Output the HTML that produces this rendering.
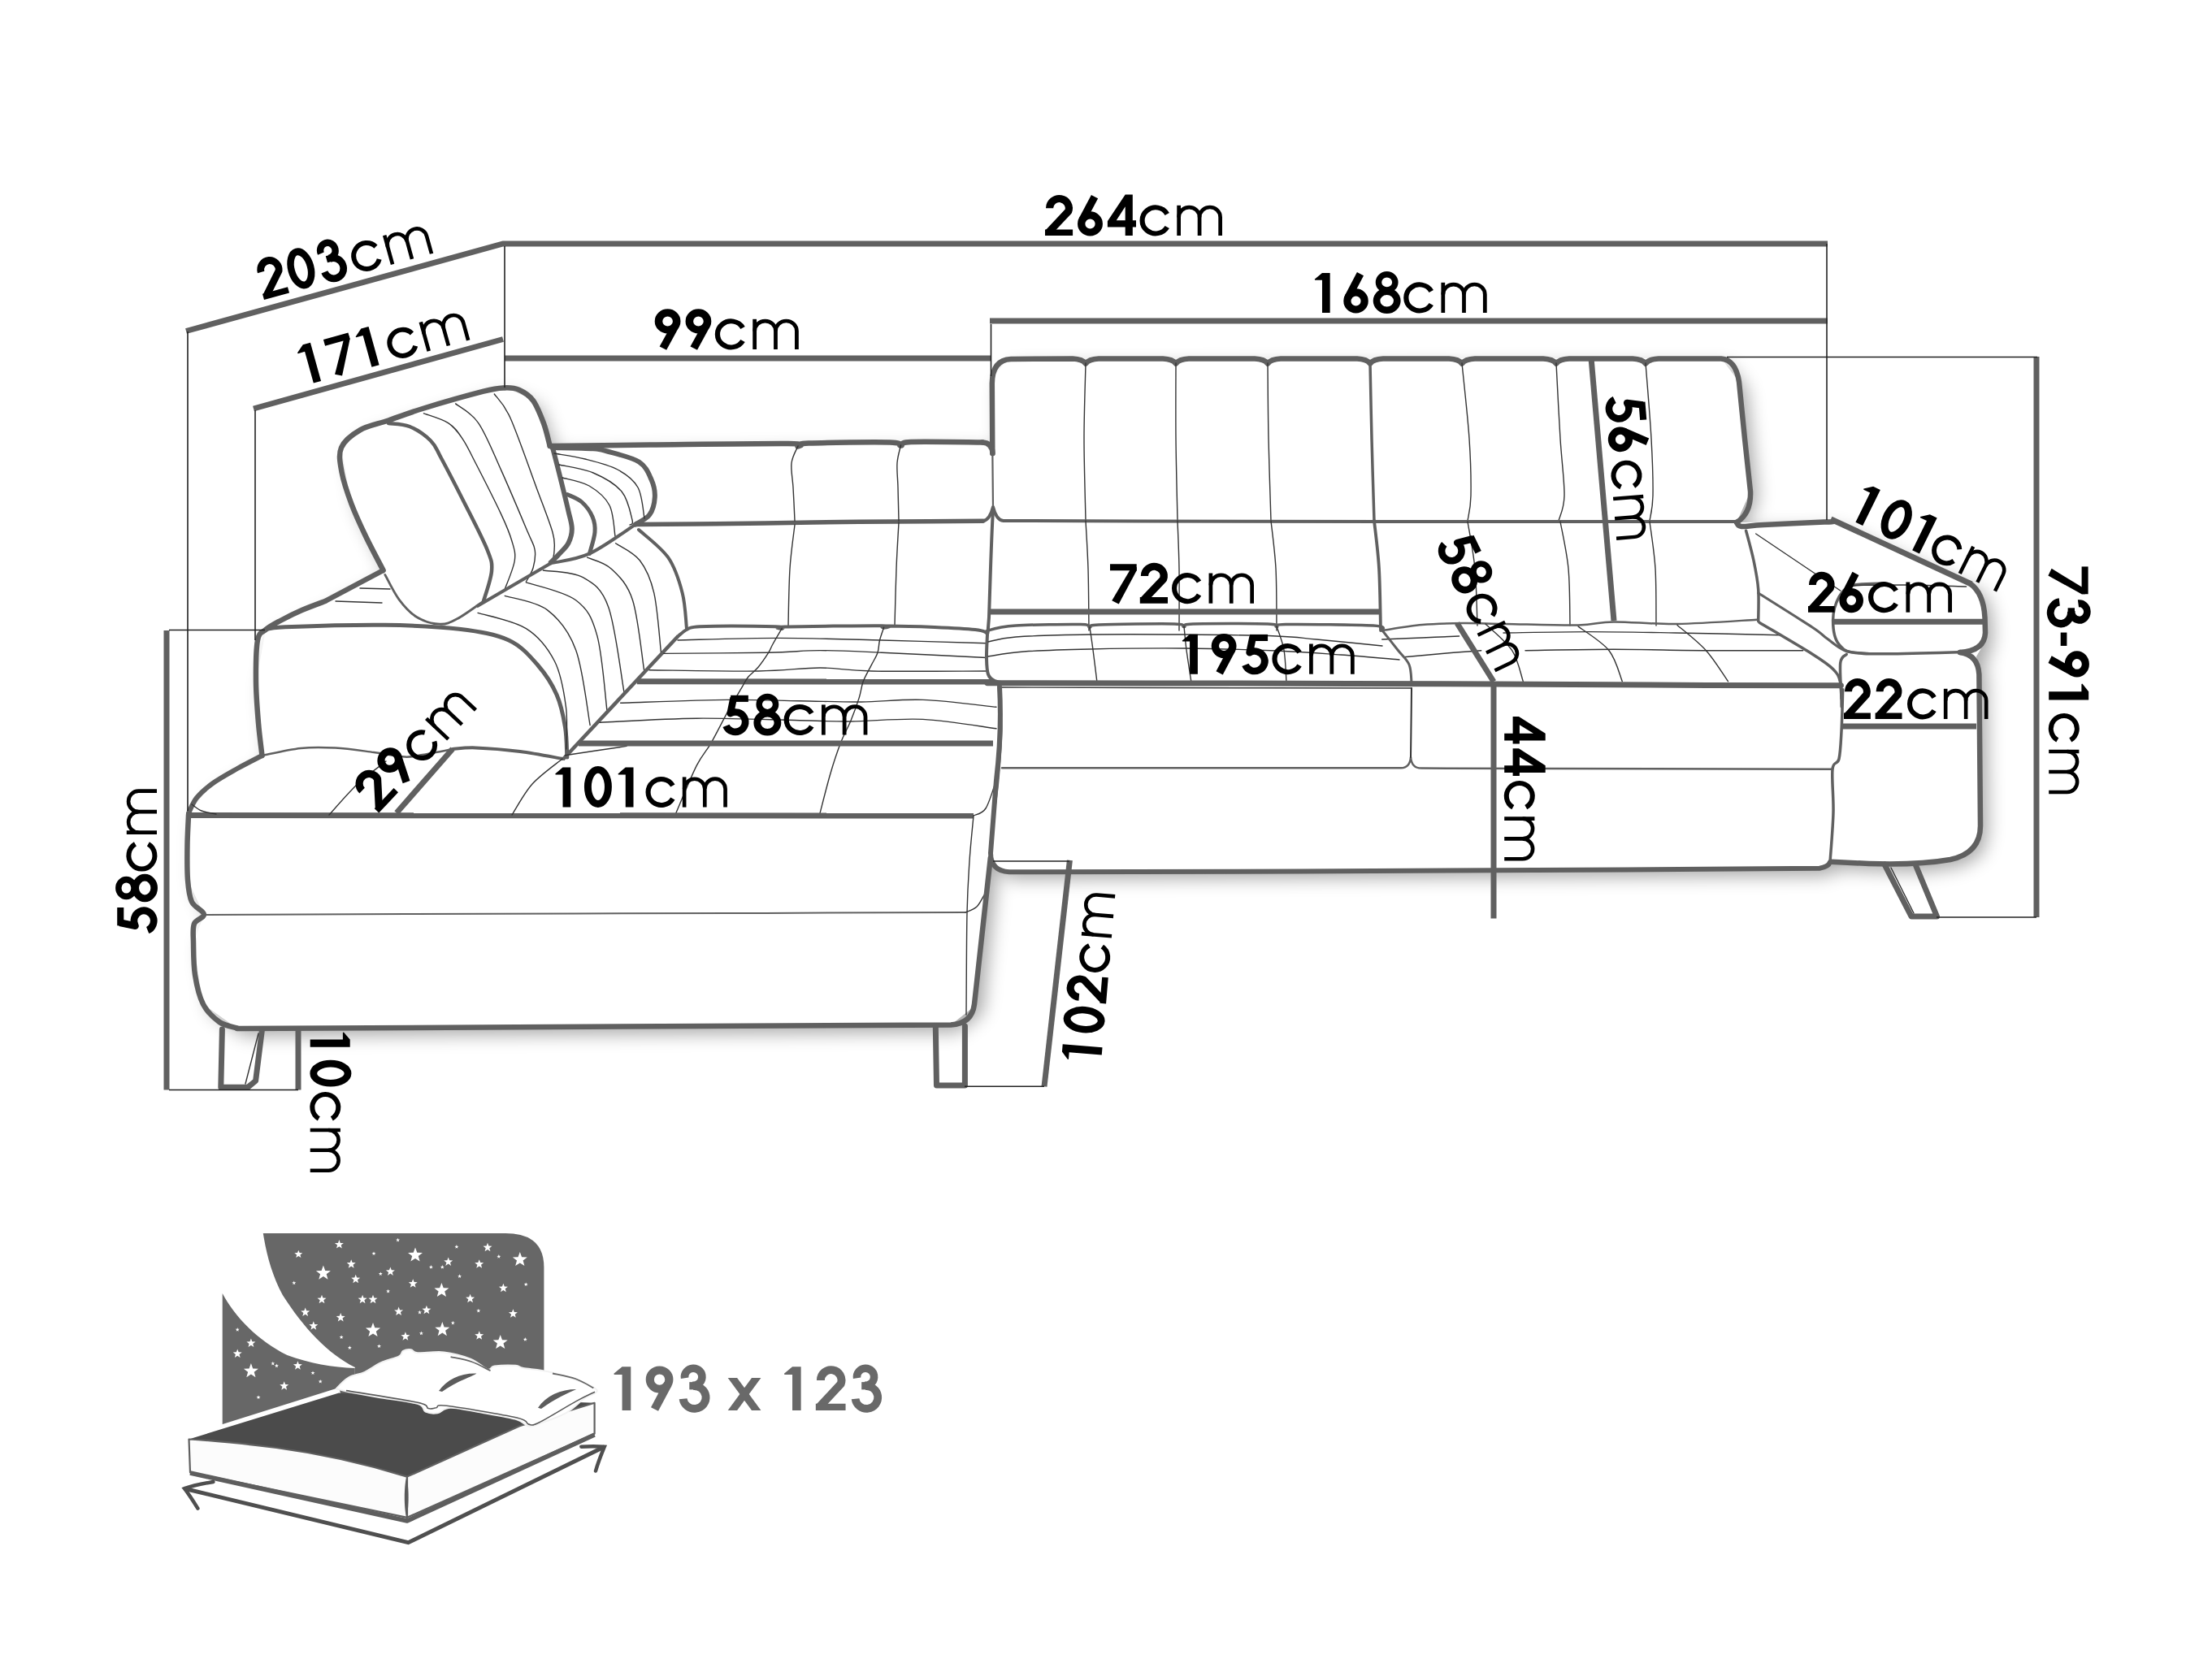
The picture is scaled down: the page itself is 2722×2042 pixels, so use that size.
<!DOCTYPE html>
<html><head><meta charset="utf-8"><title>Sofa dimensions</title>
<style>html,body{margin:0;padding:0;background:#fff;width:2722px;height:2042px;overflow:hidden}svg{display:block;font-family:"Liberation Sans",sans-serif}</style>
</head><body>
<svg width="2722" height="2042" viewBox="0 0 2722 2042" font-family="Liberation Sans, sans-serif"><defs><filter id="sh" x="-10%" y="-10%" width="120%" height="120%"><feGaussianBlur stdDeviation="11"/></filter></defs>
<path d="M621 477 L656 492 L677 549 L1209 544 L1221 558 L1221 466 L1240 442 L2118 441 L2140 470 L2154 605 L2137 643 L2256 642 L2426 719 L2436 728 L2442 750 L2443 779 L2438 798 L2432 808 L2436 830 L2437 1016 L2430 1042 L2405 1057 L2360 1064 L2331 1064 L2253 1061 L2239 1069 L1233 1073 L1219 1054 L1200 1238 L1170 1261.5 L292 1266 L250 1236 L238 1160 L251 1126 L231 1083 L232 1001 L262 964 L322 930 L315 840 L327 775 L400 740 L471 702 L432 620 L420 551 L443 529 L520 503 L595 481Z" fill="#000" opacity="0.34" filter="url(#sh)" transform="translate(9 9)"/>
<path d="M621 477 L656 492 L677 549 L1209 544 L1221 558 L1221 466 L1240 442 L2118 441 L2140 470 L2154 605 L2137 643 L2256 642 L2426 719 L2436 728 L2442 750 L2443 779 L2438 798 L2432 808 L2436 830 L2437 1016 L2430 1042 L2405 1057 L2360 1064 L2331 1064 L2253 1061 L2239 1069 L1233 1073 L1219 1054 L1200 1238 L1170 1261.5 L292 1266 L250 1236 L238 1160 L251 1126 L231 1083 L232 1001 L262 964 L322 930 L315 840 L327 775 L400 740 L471 702 L432 620 L420 551 L443 529 L520 503 L595 481Z" fill="#fff"/>
<path d="M1221.3 558 L1220.8 472 Q1221 443 1244 442 L1320 441.5 Q1332 442 1336 447.5 Q1340 442 1352 441.5 L1431 441.5 Q1443 442 1447 447.5 Q1451 442 1463 441.5 L1544 441.5 Q1556 442 1560 447.5 Q1564 442 1576 441.5 L1670 441.5 Q1682 442 1686 447.5 Q1690 442 1702 441.5 L1783 441.5 Q1795 442 1799 447.5 Q1803 442 1815 441.5 L1899 441.5 Q1911 442 1915 447.5 Q1919 442 1931 441.5 L2009 441.5 Q2021 442 2025 447.5 Q2029 442 2041 441.5 L2118 441.5 Q2136 443 2140 470 L2147 540 L2154 605 Q2155 632 2137 643" stroke="#606060" stroke-width="6.5" fill="none" stroke-linecap="round" stroke-linejoin="round"/>
<path d="M1336 447 C1335.7 462.5 1334 507.7 1334 540 C1334 572.3 1335.7 624.2 1336 641" stroke="#333" stroke-width="1.4" fill="none" stroke-linecap="round" stroke-linejoin="round"/>
<path d="M1447 447 C1447 462.5 1446.7 507.7 1447 540 C1447.3 572.3 1448.7 624.2 1449 641" stroke="#333" stroke-width="1.4" fill="none" stroke-linecap="round" stroke-linejoin="round"/>
<path d="M1560 447 C1560.2 462.5 1560.3 507.7 1561 540 C1561.7 572.3 1563.5 624.2 1564 641" stroke="#333" stroke-width="1.4" fill="none" stroke-linecap="round" stroke-linejoin="round"/>
<path d="M1686 447 C1686.3 462.5 1687.2 507.7 1688 540 C1688.8 572.3 1690.5 624.2 1691 641" stroke="#606060" stroke-width="3.5" fill="none" stroke-linecap="round" stroke-linejoin="round"/>
<path d="M1799 447 C1800.5 462.5 1806.2 512.8 1808 540 C1809.8 567.2 1810.3 593.2 1810 610 C1809.7 626.8 1806.7 635.8 1806 641" stroke="#333" stroke-width="1.4" fill="none" stroke-linecap="round" stroke-linejoin="round"/>
<path d="M1915 447 C1915.8 462.5 1918.3 512.8 1920 540 C1921.7 567.2 1925.3 593.2 1925 610 C1924.7 626.8 1919.2 635.8 1918 641" stroke="#333" stroke-width="1.4" fill="none" stroke-linecap="round" stroke-linejoin="round"/>
<path d="M2025 447 C2026.2 462.5 2030.5 512.8 2032 540 C2033.5 567.2 2034.3 593.2 2034 610 C2033.7 626.8 2030.7 635.8 2030 641" stroke="#333" stroke-width="1.4" fill="none" stroke-linecap="round" stroke-linejoin="round"/>
<path d="M1209.6 641.3 Q1218 640 1222 624 Q1226 640 1234.6 641 L1400 641.5 L1700 642 L2135 642" stroke="#606060" stroke-width="4" fill="none" stroke-linecap="round" stroke-linejoin="round"/>
<path d="M1221.3 556 L1222 624" stroke="#606060" stroke-width="2.2" fill="none" stroke-linecap="round" stroke-linejoin="round"/>
<path d="M782 645.5 C798.3 645.4 843.7 645.2 880 644.8 C916.3 644.4 963.3 643.5 1000 643 C1036.7 642.5 1065.1 642.3 1100 642 C1134.9 641.7 1191.3 641.4 1209.6 641.3" stroke="#606060" stroke-width="5.5" fill="none" stroke-linecap="round" stroke-linejoin="round"/>
<path d="M1222 628 C1220 660 1219 700 1217 760 L1215.5 779" stroke="#606060" stroke-width="4" fill="none" stroke-linecap="round" stroke-linejoin="round"/>
<path d="M1336 641 C1336.5 650.8 1338.3 677.5 1339 700 C1339.7 722.5 1339.8 763.3 1340 776" stroke="#333" stroke-width="1.4" fill="none" stroke-linecap="round" stroke-linejoin="round"/>
<path d="M1449 641 C1449.3 650.8 1450.7 677.5 1451 700 C1451.3 722.5 1451 763.3 1451 776" stroke="#333" stroke-width="1.4" fill="none" stroke-linecap="round" stroke-linejoin="round"/>
<path d="M1564 641 C1565 650.8 1568.8 677.5 1570 700 C1571.2 722.5 1570.8 763.3 1571 776" stroke="#333" stroke-width="1.4" fill="none" stroke-linecap="round" stroke-linejoin="round"/>
<path d="M1691 641 C1692 650.8 1695.7 677.5 1697 700 C1698.3 722.5 1698.7 763.3 1699 776" stroke="#606060" stroke-width="3.8" fill="none" stroke-linecap="round" stroke-linejoin="round"/>
<path d="M1806 642 C1807.5 651.7 1813 678.7 1815 700 C1817 721.3 1817.5 758.3 1818 770" stroke="#333" stroke-width="1.4" fill="none" stroke-linecap="round" stroke-linejoin="round"/>
<path d="M1920 642 C1921.7 651.7 1928 678.7 1930 700 C1932 721.3 1931.7 758.3 1932 770" stroke="#333" stroke-width="1.4" fill="none" stroke-linecap="round" stroke-linejoin="round"/>
<path d="M2030 642 C2031.2 651.7 2035.7 678.7 2037 700 C2038.3 721.3 2037.8 758.3 2038 770" stroke="#333" stroke-width="1.4" fill="none" stroke-linecap="round" stroke-linejoin="round"/>
<path d="M676.7 549 C697.2 548.8 751.1 548 800 547.5 C848.9 547 939.7 545.7 970 546 C1000.3 546.3 977.8 549.6 982 549.5 C986.2 549.4 976.2 546.3 995 545.5 C1013.8 544.7 1076.1 544 1095 544.5 C1113.9 545 1104.2 548.6 1108.5 548.5 C1112.8 548.4 1104.2 544.7 1121 544 C1137.8 543.3 1194.3 544.4 1209 544.5" stroke="#606060" stroke-width="6.5" fill="none" stroke-linecap="round" stroke-linejoin="round"/>
<path d="M1209 544.5 Q1221 545 1221.5 558" stroke="#606060" stroke-width="6.5" fill="none" stroke-linecap="round" stroke-linejoin="round"/>
<path d="M982 549 C980.7 552.5 975 561.5 974 570 C973 578.5 975.3 588.2 976 600 C976.7 611.8 977.7 634.2 978 641" stroke="#333" stroke-width="1.4" fill="none" stroke-linecap="round" stroke-linejoin="round"/>
<path d="M1108.5 548 C1107.8 551.7 1104.6 561.3 1104 570 C1103.4 578.7 1104.7 588.2 1105 600 C1105.3 611.8 1105.8 634.2 1106 641" stroke="#333" stroke-width="1.4" fill="none" stroke-linecap="round" stroke-linejoin="round"/>
<path d="M978 646 C977 655 973.3 679.3 972 700 C970.7 720.7 970.3 758.3 970 770" stroke="#333" stroke-width="1.4" fill="none" stroke-linecap="round" stroke-linejoin="round"/>
<path d="M1106 643 C1105.5 652.5 1103.8 678.8 1103 700 C1102.2 721.2 1101.3 758.3 1101 770" stroke="#333" stroke-width="1.4" fill="none" stroke-linecap="round" stroke-linejoin="round"/>
<path d="M676.7 549 C675.4 544.3 672.5 530.3 669 521 C665.5 511.7 661 499.8 656 493 C651 486.2 644.8 482.6 639 480 C633.2 477.4 628.3 477.1 621 477.4 C613.7 477.7 611.8 477.4 595 481.7 C578.2 486 539.5 497 520 503 C500.5 509 490.8 513.1 478 517.5 C465.2 521.9 452.7 523.8 443 529.4 C433.3 535 423.7 542.3 420 551 C416.3 559.7 418.5 569.9 420.6 581.5 C422.7 593.1 427.7 607.5 432.6 620.6 C437.5 633.7 443.5 646.4 450 660 C456.5 673.6 468 695 471.6 702" stroke="#606060" stroke-width="6.5" fill="none" stroke-linecap="round" stroke-linejoin="round"/>
<path d="M471.6 702 L400 740" stroke="#606060" stroke-width="6.5" fill="none" stroke-linecap="butt" stroke-linejoin="miter"/>
<path d="M400 740 C395.2 741.8 380.7 747 371.5 751 C362.3 755 352.4 760 345 764 C337.6 768 331.7 771 327 775 C322.3 779 319 777.2 317 788 C315 798.8 314.8 823 315 840 C315.2 857 316.8 875 318 890 C319.2 905 321.8 923.3 322.5 930" stroke="#606060" stroke-width="6.5" fill="none" stroke-linecap="round" stroke-linejoin="round"/>
<path d="M478 521 C482.3 521.7 495.3 521.4 504 525 C512.7 528.6 523.5 536 530 542.5 C536.5 549 536 551.1 543 564 C550 576.9 562.5 601.2 572 620 C581.5 638.8 594.2 663.2 599.7 677 C605.2 690.8 605.8 692.5 605 703 C604.2 713.5 596.7 733.8 595 740" stroke="#606060" stroke-width="4.5" fill="none" stroke-linecap="round" stroke-linejoin="round"/>
<path d="M595 740 C589.6 743.6 571.8 756.9 562.8 761.6 C553.8 766.3 549.3 768.6 541 768.2 C532.7 767.9 521.1 764.6 512.8 759.5 C504.5 754.4 497.5 746.5 491 737.8 C484.5 729.1 476.7 712.5 473.8 707.4" stroke="#606060" stroke-width="2.8" fill="none" stroke-linecap="round" stroke-linejoin="round"/>
<path d="M521.5 508.8 C526.6 510.8 543.9 515.5 551.9 520.8 C559.9 526 563.9 532.3 569.3 540.3 C574.7 548.2 576.5 553 584.5 568.5 C592.5 584 609.4 617.3 617 633.6 C624.6 649.9 627.3 656.8 630 666.2 C632.7 675.6 634.7 680.2 633.3 690 C631.9 699.8 623.4 719 621.4 724.8" stroke="#333" stroke-width="1.4" fill="none" stroke-linecap="round" stroke-linejoin="round"/>
<path d="M560.6 496.9 C565.3 500.9 579.4 507 588.8 520.8 C598.2 534.5 606.9 557 617 579.4 C627.1 601.8 642.7 639 649.6 655.3 C656.5 671.6 657.1 669.8 658.2 677 C659.3 684.2 657.9 692.2 656.1 698.7 C654.3 705.2 648.9 713.1 647.4 716" stroke="#333" stroke-width="1.4" fill="none" stroke-linecap="round" stroke-linejoin="round"/>
<path d="M608.3 485 C611.6 489.9 619.2 495 627.9 514.3 C636.6 533.6 651.7 577.5 660.4 601 C669.1 624.5 676.4 642.6 680 655.3 C683.6 668 682.1 671.2 682.1 677 C682.1 682.8 680.4 687.8 680 690" stroke="#333" stroke-width="1.4" fill="none" stroke-linecap="round" stroke-linejoin="round"/>
<path d="M680 551 C681.7 557.5 686.8 577 690 590 C693.2 603 697.2 619.1 699.5 629.3 C701.8 639.5 703.8 644.5 703.8 651 C703.8 657.5 702.1 663.1 699.5 668.3 C696.9 673.5 691.6 678 688 682 C684.4 686 679.5 690.5 677.8 692.2" stroke="#606060" stroke-width="6" fill="none" stroke-linecap="round" stroke-linejoin="round"/>
<path d="M680 551 C688.3 551.2 718.7 551.5 729.9 552.2 C741.1 553 737.8 552.8 747.2 555.5 C756.6 558.2 777.2 562.7 786.3 568.5 C795.3 574.3 798.2 583 801.5 590.2 C804.8 597.5 806.2 604.8 805.8 612 C805.4 619.2 803.3 628 799.3 633.6 C795.3 639.2 784.9 643.5 782 645.5" stroke="#606060" stroke-width="6" fill="none" stroke-linecap="round" stroke-linejoin="round"/>
<path d="M698.4 608.7 C701.3 610.2 710.9 613.5 716 618 C721.1 622.5 726.3 629.8 729 636 C731.7 642.2 732.6 647.4 732 655 C731.4 662.6 726.6 677 725.5 681.4" stroke="#606060" stroke-width="5" fill="none" stroke-linecap="round" stroke-linejoin="round"/>
<path d="M682 558 C688.3 559.2 707 561.7 720 565 C733 568.3 749.2 572.2 760 578 C770.8 583.8 779.5 590 785 600 C790.5 610 791.7 631.7 793 638" stroke="#333" stroke-width="1.4" fill="none" stroke-linecap="round" stroke-linejoin="round"/>
<path d="M688 572 C695 573.7 717.2 576.5 730 582 C742.8 587.5 757 595.3 765 605 C773 614.7 776.3 633.2 778 640 C779.7 646.8 775.5 645 775 646" stroke="#333" stroke-width="1.4" fill="none" stroke-linecap="round" stroke-linejoin="round"/>
<path d="M692 588 C697.5 589.7 715.3 592.3 725 598 C734.7 603.7 744.7 611.7 750 622 C755.3 632.3 755.8 653.7 757 660" stroke="#333" stroke-width="1.4" fill="none" stroke-linecap="round" stroke-linejoin="round"/>
<path d="M782 645.5 C772.6 651.5 742.9 673.4 725.5 681.4 C708.1 689.4 685.8 691.3 677.8 693.3" stroke="#606060" stroke-width="4" fill="none" stroke-linecap="round" stroke-linejoin="round"/>
<path d="M677.8 693.3 L586.6 746.5" stroke="#606060" stroke-width="4" fill="none" stroke-linecap="butt" stroke-linejoin="miter"/>
<path d="M327 775 C331 774.5 326.7 772.7 351 771.7 C375.3 770.8 437.3 768.9 473 769.3 C508.7 769.7 539.5 771.2 565 774.3 C590.5 777.4 609.8 780.5 626 788 C642.2 795.5 652.2 807.8 662 819 C671.8 830.2 679.4 842.3 685 855 C690.6 867.7 693.4 882.2 695.5 895 C697.6 907.8 697.4 925.8 697.8 932" stroke="#606060" stroke-width="5" fill="none" stroke-linecap="round" stroke-linejoin="round"/>
<path d="M588 754.4 C597.9 757.6 631.7 763.7 647.4 773.6 C663.1 783.5 674.2 797.8 682.4 813.8 C690.6 829.8 694 851.8 696.4 869.8 C698.8 887.8 696.9 913.3 697 922" stroke="#333" stroke-width="1.4" fill="none" stroke-linecap="round" stroke-linejoin="round"/>
<path d="M621.2 733.4 C629.9 736.3 659 739.8 673.6 750.9 C688.2 762 699.9 776.3 708.6 799.9 C717.4 823.5 723.2 877.1 726.1 892.5" stroke="#333" stroke-width="1.4" fill="none" stroke-linecap="round" stroke-linejoin="round"/>
<path d="M647.4 716.8 C657.6 720.4 694 727.8 708.6 738.7 C723.2 749.6 728.4 759.7 734.8 782.4 C741.2 805.1 745 859.6 747 875" stroke="#333" stroke-width="1.4" fill="none" stroke-linecap="round" stroke-linejoin="round"/>
<path d="M668.4 702 C676.5 703.5 703.9 703.1 717.3 710.7 C730.7 718.3 740.3 723.8 748.8 747.4 C757.2 771 764.8 834.8 768 852.3" stroke="#333" stroke-width="1.4" fill="none" stroke-linecap="round" stroke-linejoin="round"/>
<path d="M722.6 686.2 C727.5 688.5 743 691.5 752.3 700.2 C761.6 709 771.8 718 778.5 738.7 C785.2 759.4 790.2 810 792.5 824.3" stroke="#333" stroke-width="1.4" fill="none" stroke-linecap="round" stroke-linejoin="round"/>
<path d="M757.6 668.7 C762.5 672.2 779.4 679.5 787.3 689.7 C795.2 699.9 800.4 711 804.8 729.9 C809.2 748.8 812 791.1 813.5 803.4" stroke="#333" stroke-width="1.4" fill="none" stroke-linecap="round" stroke-linejoin="round"/>
<path d="M786 652 C792 657.7 813.2 673.2 822.2 686.2 C831.2 699.2 835.9 715.3 839.7 729.9 C843.5 744.5 844.1 766.3 845 773.6" stroke="#606060" stroke-width="4" fill="none" stroke-linecap="round" stroke-linejoin="round"/>
<path d="M443 724 C449.2 724.2 473.8 724.8 480 725" stroke="#333" stroke-width="1.4" fill="none" stroke-linecap="round" stroke-linejoin="round"/>
<path d="M413 740 C422.5 740.3 460.5 741.7 470 742" stroke="#333" stroke-width="1.4" fill="none" stroke-linecap="round" stroke-linejoin="round"/>
<path d="M692.7 934.8 L834.4 783" stroke="#606060" stroke-width="4.5" fill="none" stroke-linecap="butt" stroke-linejoin="miter"/>
<path d="M834.4 783 C836.2 781.7 841.2 776.9 845 775 C848.8 773.1 848 772.2 857.2 771.5 C866.4 770.8 883.1 770.5 900 770.5 C916.9 770.5 948.1 770.9 958.5 771.5 C968.9 772.1 961 774 962.3 774 C963.5 774 945.5 772.1 966 771.5 C986.5 770.9 1064.7 770.1 1085 770.3 C1105.3 770.5 1086.8 772.8 1087.6 772.8 C1088.4 772.8 1079.6 770.6 1090 770.5 C1100.4 770.4 1131.7 771.2 1150 772 C1168.3 772.8 1189.3 773.9 1200 775 C1210.7 776.1 1211.8 777.9 1214.2 778.5" stroke="#606060" stroke-width="4" fill="none" stroke-linecap="round" stroke-linejoin="round"/>
<path d="M783.8 838.8 L1224 839" stroke="#606060" stroke-width="7" fill="none" stroke-linecap="butt" stroke-linejoin="miter"/>
<path d="M834 788 C854.7 787.6 916.2 785.4 958 785.4 C999.8 785.4 1042.3 786.9 1085 788 C1127.7 789.1 1192.5 791.2 1214 791.8" stroke="#333" stroke-width="1.4" fill="none" stroke-linecap="round" stroke-linejoin="round"/>
<path d="M816.7 804.4 C838.2 804.2 913.8 803.8 945.8 803.2 C977.8 802.6 985.8 800.6 1009 800.6 C1032.2 800.6 1050.8 801.7 1085 803.2 C1119.2 804.7 1192.5 808.5 1214 809.5" stroke="#333" stroke-width="1.4" fill="none" stroke-linecap="round" stroke-linejoin="round"/>
<path d="M799 824.7 C821.4 824.9 898.2 826.5 933.2 826 C968.2 825.5 985.8 822 1009 822 C1032.2 822 1038.2 825.3 1072.4 826 C1106.6 826.7 1190.4 826 1214 826" stroke="#333" stroke-width="1.4" fill="none" stroke-linecap="round" stroke-linejoin="round"/>
<path d="M763.6 865.2 C785.5 864.6 858.5 861.8 895.2 861.4 C931.9 861 956.4 862.3 983.8 862.7 C1011.2 863.1 1034.4 864.2 1059.7 864 C1085 863.8 1108 860.4 1135.7 861.4 C1163.4 862.4 1211 868.8 1226 870.3" stroke="#333" stroke-width="1.4" fill="none" stroke-linecap="round" stroke-linejoin="round"/>
<path d="M738.2 889.2 C758 888.4 816.3 884.6 857.2 884.2 C898.1 883.8 952.1 886.1 983.8 886.7 C1015.4 887.3 1021.8 888.2 1047.1 888 C1072.4 887.8 1105.9 883.9 1135.7 885.4 C1165.5 886.9 1211 894.9 1226 896.8" stroke="#333" stroke-width="1.4" fill="none" stroke-linecap="round" stroke-linejoin="round"/>
<path d="M695.2 929.7 C707.9 927.8 758.5 920.3 771.1 918.4" stroke="#333" stroke-width="1.4" fill="none" stroke-linecap="round" stroke-linejoin="round"/>
<path d="M962.3 773.3 C960.4 776.6 953.6 788 950.9 793 C948.1 798 948.8 798.5 945.8 803.2 C942.8 807.9 937.4 816 933.2 821 C929 826 923.9 829.3 920.5 833.5 C917.1 837.7 917.1 839 912.9 846.2 C908.7 853.4 901.5 865.2 895.2 876.6 C888.9 888 881.3 903.6 875 914.6 C868.7 925.6 864.4 928.1 857.2 942.4 C850 956.7 836.1 990.9 831.9 1000.6" stroke="#333" stroke-width="1.4" fill="none" stroke-linecap="round" stroke-linejoin="round"/>
<path d="M1087.6 772.3 C1086.8 774.9 1083.8 782.9 1082.5 788 C1081.2 793.1 1081.7 798.1 1080 803.2 C1078.3 808.3 1075.4 812.5 1072.4 818.4 C1069.5 824.3 1064.8 831.9 1062.3 838.6 C1059.8 845.4 1059.7 850.9 1057.2 858.9 C1054.7 866.9 1050.9 877.4 1047.1 886.7 C1043.3 896 1038.6 903.6 1034.4 914.6 C1030.2 925.6 1026 938.2 1021.8 952.5 C1017.6 966.8 1011.2 992.6 1009.1 1000.6" stroke="#333" stroke-width="1.4" fill="none" stroke-linecap="round" stroke-linejoin="round"/>
<path d="M1198 1004 C1200.5 1002.5 1208.3 1002.3 1213 995 C1217.7 987.7 1223.8 965.8 1226 960" stroke="#333" stroke-width="1.4" fill="none" stroke-linecap="round" stroke-linejoin="round"/>
<path d="M232 1003.5 L1198 1004" stroke="#606060" stroke-width="7" fill="none" stroke-linecap="butt" stroke-linejoin="miter"/>
<path d="M232 1001 C233.7 997.8 237 988.2 242 982 C247 975.8 253.7 970 262 964 C270.3 958 281.9 951.7 292 946 C302.1 940.3 317.4 932.7 322.5 930" stroke="#606060" stroke-width="6" fill="none" stroke-linecap="round" stroke-linejoin="round"/>
<path d="M322.5 930 C330.4 928.5 355 922.6 370 921 C385 919.4 397.7 919.8 412.7 920.6 C427.7 921.4 445.8 924.2 460 926 C474.2 927.8 488 931.1 498 931.6 C508 932.1 510.2 930.6 520 929 C529.8 927.4 550.8 923.2 557 922" stroke="#606060" stroke-width="2.5" fill="none" stroke-linecap="round" stroke-linejoin="round"/>
<path d="M557 922 C561.8 921.7 571.8 919.9 585.6 920.4 C599.4 920.9 622.1 922.7 640 925 C657.9 927.3 683.9 932.5 692.7 934" stroke="#606060" stroke-width="4" fill="none" stroke-linecap="round" stroke-linejoin="round"/>
<path d="M236 990 C238 991.3 243 996 248 998 C253 1000 263 1001.3 266 1002" stroke="#333" stroke-width="1.4" fill="none" stroke-linecap="round" stroke-linejoin="round"/>
<path d="M405 1003 C410.8 996.7 428.3 976 440 965 C451.7 954 469.2 941.7 475 937" stroke="#333" stroke-width="1.4" fill="none" stroke-linecap="round" stroke-linejoin="round"/>
<path d="M630 1003 C634.2 996.7 644.7 976.5 655 965 C665.3 953.5 685.8 939.2 692 934" stroke="#333" stroke-width="1.4" fill="none" stroke-linecap="round" stroke-linejoin="round"/>
<path d="M1229 844 C1229.5 852.8 1232.2 877.7 1232 897 C1231.8 916.3 1229.7 941.2 1228 960 C1226.3 978.8 1223.5 994.5 1222 1010 C1220.5 1025.5 1219.3 1045.8 1218.8 1053" stroke="#606060" stroke-width="3.2" fill="none" stroke-linecap="round" stroke-linejoin="round"/>
<path d="M232 1003 C231.8 1009.2 230.7 1026.7 230.5 1040 C230.3 1053.3 230.1 1071.3 231 1083 C231.9 1094.7 232.7 1102.9 236 1110 C239.3 1117.1 250.5 1121 251 1125.5 C251.5 1130 241.2 1131.2 239 1137 C236.8 1142.8 237.8 1149.5 238 1160 C238.2 1170.5 238 1187.3 240 1200 C242 1212.7 245 1226.3 250 1236 C255 1245.7 263 1253.1 270 1258 C277 1262.9 288.3 1264.2 292 1265.5" stroke="#606060" stroke-width="6.5" fill="none" stroke-linecap="round" stroke-linejoin="round"/>
<path d="M251 1126 C292.5 1125.8 391.8 1125.3 500 1125 C608.2 1124.7 785.3 1124.3 900 1124 C1014.7 1123.7 1140 1123.2 1188 1123" stroke="#606060" stroke-width="2" fill="none" stroke-linecap="round" stroke-linejoin="round"/>
<path d="M1188 1123 C1190.3 1121.8 1198 1119.8 1202 1116 C1206 1112.2 1210.3 1102.7 1212 1100" stroke="#333" stroke-width="1.4" fill="none" stroke-linecap="round" stroke-linejoin="round"/>
<path d="M292 1266 L1170 1261.5 Q1196 1260 1199 1236 L1218.8 1056" stroke="#606060" stroke-width="6.5" fill="none" stroke-linecap="round" stroke-linejoin="round"/>
<path d="M1198 1004 C1197.2 1013.3 1194.3 1040 1193 1060 C1191.7 1080 1190.7 1092.5 1190 1124 C1189.3 1155.5 1189.2 1228.2 1189 1249" stroke="#333" stroke-width="1.4" fill="none" stroke-linecap="round" stroke-linejoin="round"/>
<path d="M273.4 1267 L271.8 1338.3 L305 1338.3 L314.6 1330.4 L322.5 1267" stroke="#606060" stroke-width="7" fill="none" stroke-linecap="round" stroke-linejoin="round"/>
<path d="M318 1272 C315.3 1282.3 304.7 1323.7 302 1334" stroke="#333" stroke-width="1.4" fill="none" stroke-linecap="round" stroke-linejoin="round"/>
<path d="M1151.3 1263 L1152.5 1336 L1187.4 1336 L1187.4 1263" stroke="#606060" stroke-width="7" fill="none" stroke-linecap="round" stroke-linejoin="round"/>
<path d="M1215 781 C1215.2 780.2 1210.2 777.8 1216 776 C1221.8 774.2 1231 771.2 1250 770 C1269 768.8 1314.8 768.2 1330 768.5 C1345.2 768.8 1337.3 771.9 1341 772 C1344.7 772.1 1334.7 769.7 1352 769 C1369.3 768.3 1427.5 767.6 1445 768 C1462.5 768.4 1453.2 771.5 1457 771.5 C1460.8 771.5 1450.8 768.6 1468 768 C1485.2 767.4 1542.8 767.4 1560 768 C1577.2 768.6 1567.3 771.4 1571 771.5 C1574.7 771.6 1562.2 768.8 1582 768.5 C1601.8 768.2 1670.2 768.8 1690 770 C1709.8 771.2 1699.2 775 1701 776" stroke="#606060" stroke-width="3.5" fill="none" stroke-linecap="round" stroke-linejoin="round"/>
<path d="M1701 776 C1709.2 774.8 1733.5 770.5 1750 769 C1766.5 767.5 1782.9 767.2 1800 767 C1817.1 766.8 1828.9 767.6 1852.6 768 C1876.3 768.4 1919.8 769.9 1942 769.5 C1964.2 769.1 1965.2 765.6 1985.5 765.4 C2005.8 765.1 2034.6 768.5 2064 768 C2093.4 767.5 2145.4 763.6 2161.7 762.7" stroke="#606060" stroke-width="2.5" fill="none" stroke-linecap="round" stroke-linejoin="round"/>
<path d="M1215 781 C1214.8 785.8 1213.8 801.8 1214 810 C1214.2 818.2 1214.3 825.3 1216 830 C1217.7 834.7 1220 836.2 1224 838 C1228 839.8 1237.3 840.3 1240 840.8" stroke="#606060" stroke-width="4" fill="none" stroke-linecap="round" stroke-linejoin="round"/>
<path d="M1216 790 C1221.7 789 1229.2 785.5 1250 784 C1270.8 782.5 1306.5 781.5 1341 781 C1375.5 780.5 1418.7 780.7 1457 781 C1495.3 781.3 1543.8 782 1571 783 C1598.2 784 1598.3 785 1620 787 C1641.7 789 1687.5 793.7 1701 795" stroke="#333" stroke-width="1.4" fill="none" stroke-linecap="round" stroke-linejoin="round"/>
<path d="M1216 808 C1223.3 807 1239.2 803.5 1260 802 C1280.8 800.5 1308.2 799.7 1341 799 C1373.8 798.3 1418.7 797.7 1457 798 C1495.3 798.3 1538.8 799.7 1571 801 C1603.2 802.3 1624.8 804.2 1650 806 C1675.2 807.8 1710 811 1722 812" stroke="#333" stroke-width="1.4" fill="none" stroke-linecap="round" stroke-linejoin="round"/>
<path d="M1700.7 787 C1708.9 786.7 1734.2 785.7 1750 785 C1765.8 784.3 1788 783.3 1795.6 783" stroke="#333" stroke-width="1.4" fill="none" stroke-linecap="round" stroke-linejoin="round"/>
<path d="M1727.8 808.8 C1736.5 808 1764.2 805.4 1780 804 C1795.8 802.6 1815.6 801.2 1822.7 800.7" stroke="#333" stroke-width="1.4" fill="none" stroke-linecap="round" stroke-linejoin="round"/>
<path d="M1850 779 C1867.6 778.8 1920.4 777.6 1955.6 777.6 C1990.8 777.6 2022.1 778.3 2061.4 779 C2100.7 779.7 2169.9 781.2 2191.6 781.7" stroke="#333" stroke-width="1.4" fill="none" stroke-linecap="round" stroke-linejoin="round"/>
<path d="M1877 800.7 C1895.1 800.5 1948.4 799.3 1985.5 799.3 C2022.6 799.3 2060.5 800.5 2099.4 800.7 C2138.3 800.9 2198.8 800.7 2218.7 800.7" stroke="#333" stroke-width="1.4" fill="none" stroke-linecap="round" stroke-linejoin="round"/>
<path d="M1341 772 C1341.7 776.7 1343.5 788.7 1345 800 C1346.5 811.3 1349.2 833.3 1350 840" stroke="#333" stroke-width="1.4" fill="none" stroke-linecap="round" stroke-linejoin="round"/>
<path d="M1457 771 C1457.5 775.8 1458.5 788.5 1460 800 C1461.5 811.5 1465 833.3 1466 840" stroke="#333" stroke-width="1.4" fill="none" stroke-linecap="round" stroke-linejoin="round"/>
<path d="M1571 771 C1572.5 775.8 1578 788.5 1580 800 C1582 811.5 1582.5 833.3 1583 840" stroke="#333" stroke-width="1.4" fill="none" stroke-linecap="round" stroke-linejoin="round"/>
<path d="M1701 776 C1704.2 780 1714.5 793 1720 800 C1725.5 807 1731.2 811.3 1734 818 C1736.8 824.7 1736.5 836.3 1737 840" stroke="#606060" stroke-width="3" fill="none" stroke-linecap="round" stroke-linejoin="round"/>
<path d="M1828 768 C1833.5 773.5 1853 788.9 1860.7 800.7 C1868.4 812.5 1872 832.4 1874.3 838.7" stroke="#333" stroke-width="1.4" fill="none" stroke-linecap="round" stroke-linejoin="round"/>
<path d="M1942 771 C1948.3 776 1971 789.4 1980 800.7 C1989 812 1993.6 832.4 1996.3 838.7" stroke="#333" stroke-width="1.4" fill="none" stroke-linecap="round" stroke-linejoin="round"/>
<path d="M2064 769.5 C2069.9 774.7 2089 789.2 2099.4 800.7 C2109.8 812.2 2122 832.4 2126.5 838.7" stroke="#333" stroke-width="1.4" fill="none" stroke-linecap="round" stroke-linejoin="round"/>
<path d="M1215 840.8 C1262.5 840.8 1396.2 840.8 1500 841 C1603.8 841.2 1738 841.6 1838 842 C1938 842.4 2028.8 843.2 2100 843.5 C2171.2 843.8 2237.8 843.8 2265.4 843.8" stroke="#606060" stroke-width="7" fill="none" stroke-linecap="round" stroke-linejoin="round"/>
<path d="M1230 846 C1258.3 846.1 1315.5 846.3 1400 846.5 C1484.5 846.7 1680.8 846.9 1737 847" stroke="#333" stroke-width="1.4" fill="none" stroke-linecap="round" stroke-linejoin="round"/>
<path d="M1230 845.6 Q1233 900 1226 960 L1219 1050 Q1219 1072 1242 1073.3 L1600 1072.5 L2000 1070.5 L2239 1068.7 Q2250 1067 2252 1061" stroke="#606060" stroke-width="6" fill="none" stroke-linecap="round" stroke-linejoin="round"/>
<path d="M1233 945.3 L1724 945.3 Q1735 945 1736 932 Q1737 945.5 1749 945.6 L2255 946.8" stroke="#606060" stroke-width="2.5" fill="none" stroke-linecap="round" stroke-linejoin="round"/>
<path d="M1737 847 C1736.9 855.8 1736.6 885.8 1736.4 900 C1736.2 914.2 1736.1 926.7 1736 932" stroke="#333" stroke-width="2" fill="none" stroke-linecap="round" stroke-linejoin="round"/>
<path d="M2267.7 848.7 C2267.4 857.2 2266.8 885.8 2266 900 C2265.2 914.2 2264.8 926.2 2263 934 C2261.2 941.8 2256.2 935.8 2255 946.8 C2253.8 957.8 2256.5 981 2256 1000 C2255.5 1019 2252.7 1050.8 2252 1061" stroke="#606060" stroke-width="3.5" fill="none" stroke-linecap="round" stroke-linejoin="round"/>
<path d="M2137 643 C2138 643.8 2137.5 647.5 2143 648 C2148.5 648.5 2153 646.9 2170 646 C2187 645.1 2230.7 643.3 2245 642.6 C2259.3 641.9 2254.2 642.1 2256 642" stroke="#606060" stroke-width="6.5" fill="none" stroke-linecap="round" stroke-linejoin="round"/>
<path d="M2148.6 653.2 C2150.2 659.3 2155.5 678 2158 690 C2160.5 702 2162.8 713 2163.7 725.5 C2164.6 738 2163.7 758.2 2163.7 764.7" stroke="#606060" stroke-width="3.5" fill="none" stroke-linecap="round" stroke-linejoin="round"/>
<path d="M2160.7 657 C2178 668.7 2247.4 715.3 2264.7 727" stroke="#333" stroke-width="1.4" fill="none" stroke-linecap="round" stroke-linejoin="round"/>
<path d="M2163.7 730 C2174.8 737 2215.9 762.7 2230 772 C2244.1 781.3 2241.2 781 2248 785.8 C2254.8 790.6 2262 797.8 2270.7 800.9 C2279.4 804 2295.1 803.9 2300 804.5" stroke="#606060" stroke-width="3.2" fill="none" stroke-linecap="round" stroke-linejoin="round"/>
<path d="M2165 766.2 C2175.8 772.7 2214.9 795.5 2230 805 C2245.1 814.5 2249.8 817.7 2255.6 823.5 C2261.4 829.3 2262.9 832.2 2264.7 840 C2266.5 847.8 2265.9 865 2266.2 870" stroke="#606060" stroke-width="3.5" fill="none" stroke-linecap="round" stroke-linejoin="round"/>
<path d="M2320 718 C2313.4 718.4 2289.9 717.9 2280.4 720.6 C2270.9 723.4 2267.3 727.4 2263.2 734.5 C2259.1 741.6 2255.6 753.4 2255.6 763.2 C2255.6 773 2257 786.4 2263.2 793.3 C2269.4 800.2 2268.5 802.8 2293 804.4 C2317.5 806 2390.5 803.1 2410 802.8" stroke="#606060" stroke-width="3.5" fill="none" stroke-linecap="round" stroke-linejoin="round"/>
<path d="M2424 718 Q2441 730 2442.5 760 L2443 779 Q2442 801 2412 803" stroke="#606060" stroke-width="6.5" fill="none" stroke-linecap="round" stroke-linejoin="round"/>
<path d="M2280.4 720.6 C2292 720.5 2326.8 719.8 2350 720 C2373.2 720.2 2408 721.7 2419.6 722" stroke="#333" stroke-width="1.4" fill="none" stroke-linecap="round" stroke-linejoin="round"/>
<path d="M2272.2 805.4 C2270.9 807.2 2265.7 806.9 2264.7 816 C2263.7 825.1 2265.8 852.7 2266 860" stroke="#606060" stroke-width="3.5" fill="none" stroke-linecap="round" stroke-linejoin="round"/>
<path d="M2412 803 Q2434 806 2435.4 830 L2437 1016.5 Q2437 1050 2400 1058 Q2360 1065 2300 1063 L2253.5 1060.8" stroke="#606060" stroke-width="6.5" fill="none" stroke-linecap="round" stroke-linejoin="round"/>
<path d="M2319 1064 L2352 1128 L2383.5 1128 L2357 1064" stroke="#606060" stroke-width="7" fill="none" stroke-linecap="round" stroke-linejoin="round"/>
<path d="M2327 1068 C2331.7 1077.3 2350.3 1114.7 2355 1124" stroke="#333" stroke-width="1.4" fill="none" stroke-linecap="round" stroke-linejoin="round"/>
<path d="M229 407.5 L619 300 L2249 300" stroke="#606060" stroke-width="7" fill="none" stroke-linecap="butt" stroke-linejoin="miter"/>
<path d="M312 503 L619 417.5" stroke="#606060" stroke-width="7" fill="none" stroke-linecap="butt" stroke-linejoin="miter"/>
<path d="M621 441 L1219 441" stroke="#606060" stroke-width="7" fill="none" stroke-linecap="butt" stroke-linejoin="miter"/>
<path d="M1218 395 L2249 395" stroke="#606060" stroke-width="7" fill="none" stroke-linecap="butt" stroke-linejoin="miter"/>
<path d="M2506 439 L2506 1129" stroke="#606060" stroke-width="7" fill="none" stroke-linecap="butt" stroke-linejoin="miter"/>
<path d="M205 776 L205 1341.5" stroke="#606060" stroke-width="7" fill="none" stroke-linecap="butt" stroke-linejoin="miter"/>
<path d="M367 1268 L367 1341.5" stroke="#606060" stroke-width="7" fill="none" stroke-linecap="butt" stroke-linejoin="miter"/>
<path d="M1219 753 L1698 753" stroke="#606060" stroke-width="7" fill="none" stroke-linecap="butt" stroke-linejoin="miter"/>
<path d="M712 915 L1222 915" stroke="#606060" stroke-width="7" fill="none" stroke-linecap="butt" stroke-linejoin="miter"/>
<path d="M488 1000.5 L557 921.7" stroke="#606060" stroke-width="7" fill="none" stroke-linecap="butt" stroke-linejoin="miter"/>
<path d="M1958 440.4 L1986 764" stroke="#606060" stroke-width="7" fill="none" stroke-linecap="butt" stroke-linejoin="miter"/>
<path d="M1793 767 L1838 839" stroke="#606060" stroke-width="7" fill="none" stroke-linecap="butt" stroke-linejoin="miter"/>
<path d="M1838 839 L1838 1130.4" stroke="#606060" stroke-width="7" fill="none" stroke-linecap="butt" stroke-linejoin="miter"/>
<path d="M2253 639 L2426 719" stroke="#606060" stroke-width="7" fill="none" stroke-linecap="butt" stroke-linejoin="miter"/>
<path d="M2255 765.2 L2442 765.2" stroke="#606060" stroke-width="7" fill="none" stroke-linecap="butt" stroke-linejoin="miter"/>
<path d="M2266 894 L2432 894" stroke="#606060" stroke-width="7" fill="none" stroke-linecap="butt" stroke-linejoin="miter"/>
<path d="M1316.4 1058.9 L1285 1337.3" stroke="#606060" stroke-width="7" fill="none" stroke-linecap="butt" stroke-linejoin="miter"/>
<path d="M231 408 L231 998" stroke="#222" stroke-width="1.6" fill="none" stroke-linecap="butt" stroke-linejoin="miter"/>
<path d="M314 505 L314 788" stroke="#222" stroke-width="1.6" fill="none" stroke-linecap="butt" stroke-linejoin="miter"/>
<path d="M621 303 L621 477" stroke="#222" stroke-width="1.6" fill="none" stroke-linecap="butt" stroke-linejoin="miter"/>
<path d="M1219.5 399 L1219.5 463" stroke="#222" stroke-width="1.6" fill="none" stroke-linecap="butt" stroke-linejoin="miter"/>
<path d="M2248 300 L2248 640" stroke="#222" stroke-width="1.6" fill="none" stroke-linecap="butt" stroke-linejoin="miter"/>
<path d="M2125 439.5 L2507 439.5" stroke="#222" stroke-width="1.6" fill="none" stroke-linecap="butt" stroke-linejoin="miter"/>
<path d="M2383 1129 L2506 1129" stroke="#222" stroke-width="1.6" fill="none" stroke-linecap="butt" stroke-linejoin="miter"/>
<path d="M208 775.5 L326 775.5" stroke="#222" stroke-width="1.6" fill="none" stroke-linecap="butt" stroke-linejoin="miter"/>
<path d="M208 1341.5 L367 1341.5" stroke="#222" stroke-width="1.6" fill="none" stroke-linecap="butt" stroke-linejoin="miter"/>
<path d="M1222 1060 L1316 1060" stroke="#222" stroke-width="1.6" fill="none" stroke-linecap="butt" stroke-linejoin="miter"/>
<path d="M1187 1337.3 L1285 1337.3" stroke="#222" stroke-width="1.6" fill="none" stroke-linecap="butt" stroke-linejoin="miter"/>
<g transform="translate(1286 290) rotate(0)"><g transform="scale(1.0238 1.0000)"><g transform="translate(0 0)"><path d="M5.5 -33.8 A11.6 11.6 0 1 1 28 -29.83 L4.0 -3.8" fill="none" stroke="#000" stroke-width="9" stroke-linejoin="round"/><path d="M0 -7.6 H33.3 V0 H0 Z" fill="#000" fill-rule="evenodd"/></g><g transform="translate(39.1 0)"><path d="M4.55 -14.6 A10.55 10.55 0 1 0 25.65 -14.6 A10.55 10.55 0 1 0 4.55 -14.6 Z" fill="none" stroke="#000" stroke-width="9.1" stroke-linejoin="round"/><path d="M20.5 -47.8 L5.74 -19.47" fill="none" stroke="#000" stroke-width="9.1" stroke-linejoin="round"/></g><g transform="translate(75.1 0)"><path d="M21.3 -50.5 L30.2 -50.5 L30.2 -18.7 L34.3 -18.7 L34.3 -10.4 L30.2 -10.4 L30.2 0 L21.3 0 L21.3 -10.4 L0 -10.4 L0 -17.8 Z M10.6 -18.7 L21.3 -18.7 L21.3 -35.8 Z" fill="#000" fill-rule="evenodd"/></g></g><g transform="translate(116.5 0) scale(1.0263 1.0000)"><g transform="translate(0 0)"><path d="M32.86 -10.6 A16 16 0 1 1 32.86 -26.6" fill="none" stroke="#000" stroke-width="6" stroke-linejoin="round"/></g><g transform="translate(44.6 0)"><path d="M2.3 0 V-37.2" fill="none" stroke="#000" stroke-width="4.6" stroke-linejoin="round"/><path d="M2.3 -22.5 A12.4 12.4 0 0 1 27.1 -22.5 V0" fill="none" stroke="#000" stroke-width="4.6" stroke-linejoin="round"/><path d="M27.1 -22.5 A12.45 12.45 0 0 1 52 -22.5 V0" fill="none" stroke="#000" stroke-width="4.6" stroke-linejoin="round"/></g></g></g>
<g transform="translate(1617.7 385) rotate(0)"><g transform="scale(1.0086 1.0000)"><g transform="translate(0 0)"><path d="M0 -41.2 L9.2 -49 L18.8 -49 L18.8 0 L9.2 0 L9.2 -40.2 L0.5 -40.2 Z" fill="#000" fill-rule="evenodd"/></g><g transform="translate(35.3 0)"><path d="M4.55 -14.6 A10.55 10.55 0 1 0 25.65 -14.6 A10.55 10.55 0 1 0 4.55 -14.6 Z" fill="none" stroke="#000" stroke-width="9.1" stroke-linejoin="round"/><path d="M20.5 -47.8 L5.74 -19.47" fill="none" stroke="#000" stroke-width="9.1" stroke-linejoin="round"/></g><g transform="translate(71.3 0)"><path d="M6.8 -37.6 A10.1 9.6 0 1 1 27 -37.6 A10.1 9.6 0 1 1 6.8 -37.6 Z" fill="none" stroke="#000" stroke-width="7.4" stroke-linejoin="round"/><path d="M4.4 -14.8 A12.5 11.5 0 1 1 29.4 -14.8 A12.5 11.5 0 1 1 4.4 -14.8 Z" fill="none" stroke="#000" stroke-width="8.6" stroke-linejoin="round"/></g></g><g transform="translate(109.5 0) scale(1.0364 1.0000)"><g transform="translate(0 0)"><path d="M32.86 -10.6 A16 16 0 1 1 32.86 -26.6" fill="none" stroke="#000" stroke-width="6" stroke-linejoin="round"/></g><g transform="translate(44.6 0)"><path d="M2.3 0 V-37.2" fill="none" stroke="#000" stroke-width="4.6" stroke-linejoin="round"/><path d="M2.3 -22.5 A12.4 12.4 0 0 1 27.1 -22.5 V0" fill="none" stroke="#000" stroke-width="4.6" stroke-linejoin="round"/><path d="M27.1 -22.5 A12.45 12.45 0 0 1 52 -22.5 V0" fill="none" stroke="#000" stroke-width="4.6" stroke-linejoin="round"/></g></g></g>
<g transform="translate(805.7 430) rotate(0)"><g transform="scale(1.0514 1.0000)"><g transform="translate(0 0)"><g transform="rotate(180 15.1 -24.6)"><path d="M4.55 -14.6 A10.55 10.55 0 1 0 25.65 -14.6 A10.55 10.55 0 1 0 4.55 -14.6 Z" fill="none" stroke="#000" stroke-width="9.1" stroke-linejoin="round"/><path d="M20.5 -47.8 L5.74 -19.47" fill="none" stroke="#000" stroke-width="9.1" stroke-linejoin="round"/></g></g><g transform="translate(36 0)"><g transform="rotate(180 15.1 -24.6)"><path d="M4.55 -14.6 A10.55 10.55 0 1 0 25.65 -14.6 A10.55 10.55 0 1 0 4.55 -14.6 Z" fill="none" stroke="#000" stroke-width="9.1" stroke-linejoin="round"/><path d="M20.5 -47.8 L5.74 -19.47" fill="none" stroke="#000" stroke-width="9.1" stroke-linejoin="round"/></g></g></g><g transform="translate(74.1 0) scale(1.0415 1.0000)"><g transform="translate(0 0)"><path d="M32.86 -10.6 A16 16 0 1 1 32.86 -26.6" fill="none" stroke="#000" stroke-width="6" stroke-linejoin="round"/></g><g transform="translate(44.6 0)"><path d="M2.3 0 V-37.2" fill="none" stroke="#000" stroke-width="4.6" stroke-linejoin="round"/><path d="M2.3 -22.5 A12.4 12.4 0 0 1 27.1 -22.5 V0" fill="none" stroke="#000" stroke-width="4.6" stroke-linejoin="round"/><path d="M27.1 -22.5 A12.45 12.45 0 0 1 52 -22.5 V0" fill="none" stroke="#000" stroke-width="4.6" stroke-linejoin="round"/></g></g></g>
<g transform="translate(1366 742.7) rotate(0)"><g transform="scale(1.0275 1.0000)"><g transform="translate(0 0)"><path d="M0 -48.4 H31.8 V-40.4 H0 Z" fill="#000" fill-rule="evenodd"/><path d="M23.6 -40.6 L31.8 -44.8 L31.8 -40.4 L10.4 0.8 L2.2 -3.4 Z" fill="#000" fill-rule="evenodd"/></g><g transform="translate(35.8 0)"><path d="M5.5 -33.8 A11.6 11.6 0 1 1 28 -29.83 L4.0 -3.8" fill="none" stroke="#000" stroke-width="9" stroke-linejoin="round"/><path d="M0 -7.6 H33.3 V0 H0 Z" fill="#000" fill-rule="evenodd"/></g></g><g transform="translate(76 0) scale(1.0212 1.0000)"><g transform="translate(0 0)"><path d="M32.86 -10.6 A16 16 0 1 1 32.86 -26.6" fill="none" stroke="#000" stroke-width="6" stroke-linejoin="round"/></g><g transform="translate(44.6 0)"><path d="M2.3 0 V-37.2" fill="none" stroke="#000" stroke-width="4.6" stroke-linejoin="round"/><path d="M2.3 -22.5 A12.4 12.4 0 0 1 27.1 -22.5 V0" fill="none" stroke="#000" stroke-width="4.6" stroke-linejoin="round"/><path d="M27.1 -22.5 A12.45 12.45 0 0 1 52 -22.5 V0" fill="none" stroke="#000" stroke-width="4.6" stroke-linejoin="round"/></g></g></g>
<g transform="translate(1454.7 829.7) rotate(0)"><g transform="scale(1.0202 1.0000)"><g transform="translate(0 0)"><path d="M0 -41.2 L9.2 -49 L18.8 -49 L18.8 0 L9.2 0 L9.2 -40.2 L0.5 -40.2 Z" fill="#000" fill-rule="evenodd"/></g><g transform="translate(35.3 0)"><g transform="rotate(180 15.1 -24.6)"><path d="M4.55 -14.6 A10.55 10.55 0 1 0 25.65 -14.6 A10.55 10.55 0 1 0 4.55 -14.6 Z" fill="none" stroke="#000" stroke-width="9.1" stroke-linejoin="round"/><path d="M20.5 -47.8 L5.74 -19.47" fill="none" stroke="#000" stroke-width="9.1" stroke-linejoin="round"/></g></g><g transform="translate(71.3 0)"><path d="M10.4 -48.8 H32 V-40.7 H10.4 Z" fill="#000" fill-rule="evenodd"/><path d="M14.0 -45.8 L10.05 -26.47  A12.2 12.2 0 1 1 4.84 -11.33" fill="none" stroke="#000" stroke-width="8.6" stroke-linejoin="round"/></g></g><g transform="translate(110.7 0) scale(1.0243 1.0000)"><g transform="translate(0 0)"><path d="M32.86 -10.6 A16 16 0 1 1 32.86 -26.6" fill="none" stroke="#000" stroke-width="6" stroke-linejoin="round"/></g><g transform="translate(44.6 0)"><path d="M2.3 0 V-37.2" fill="none" stroke="#000" stroke-width="4.6" stroke-linejoin="round"/><path d="M2.3 -22.5 A12.4 12.4 0 0 1 27.1 -22.5 V0" fill="none" stroke="#000" stroke-width="4.6" stroke-linejoin="round"/><path d="M27.1 -22.5 A12.45 12.45 0 0 1 52 -22.5 V0" fill="none" stroke="#000" stroke-width="4.6" stroke-linejoin="round"/></g></g></g>
<g transform="translate(888.6 904.6) rotate(0)"><g transform="scale(1.0083 1.0000)"><g transform="translate(0 0)"><path d="M10.4 -48.8 H32 V-40.7 H10.4 Z" fill="#000" fill-rule="evenodd"/><path d="M14.0 -45.8 L10.05 -26.47  A12.2 12.2 0 1 1 4.84 -11.33" fill="none" stroke="#000" stroke-width="8.6" stroke-linejoin="round"/></g><g transform="translate(38.4 0)"><path d="M6.8 -37.6 A10.1 9.6 0 1 1 27 -37.6 A10.1 9.6 0 1 1 6.8 -37.6 Z" fill="none" stroke="#000" stroke-width="7.4" stroke-linejoin="round"/><path d="M4.4 -14.8 A12.5 11.5 0 1 1 29.4 -14.8 A12.5 11.5 0 1 1 4.4 -14.8 Z" fill="none" stroke="#000" stroke-width="8.6" stroke-linejoin="round"/></g></g><g transform="translate(76 0) scale(1.0394 1.0000)"><g transform="translate(0 0)"><path d="M32.86 -10.6 A16 16 0 1 1 32.86 -26.6" fill="none" stroke="#000" stroke-width="6" stroke-linejoin="round"/></g><g transform="translate(44.6 0)"><path d="M2.3 0 V-37.2" fill="none" stroke="#000" stroke-width="4.6" stroke-linejoin="round"/><path d="M2.3 -22.5 A12.4 12.4 0 0 1 27.1 -22.5 V0" fill="none" stroke="#000" stroke-width="4.6" stroke-linejoin="round"/><path d="M27.1 -22.5 A12.45 12.45 0 0 1 52 -22.5 V0" fill="none" stroke="#000" stroke-width="4.6" stroke-linejoin="round"/></g></g></g>
<g transform="translate(683.2 993.6) rotate(0)"><g transform="scale(1.0126 1.0000)"><g transform="translate(0 0)"><path d="M0 -41.2 L9.2 -49 L18.8 -49 L18.8 0 L9.2 0 L9.2 -40.2 L0.5 -40.2 Z" fill="#000" fill-rule="evenodd"/></g><g transform="translate(35.3 0)"><path d="M16.75 -46.3 A12.35 21.1 0 1 1 16.75 -4.1 A12.35 21.1 0 1 1 16.75 -46.3 Z" fill="none" stroke="#000" stroke-width="8.8" stroke-linejoin="round"/></g><g transform="translate(76.3 0)"><path d="M0 -41.2 L9.2 -49 L18.8 -49 L18.8 0 L9.2 0 L9.2 -40.2 L0.5 -40.2 Z" fill="#000" fill-rule="evenodd"/></g></g><g transform="translate(111.3 0) scale(1.0152 1.0000)"><g transform="translate(0 0)"><path d="M32.86 -10.6 A16 16 0 1 1 32.86 -26.6" fill="none" stroke="#000" stroke-width="6" stroke-linejoin="round"/></g><g transform="translate(44.6 0)"><path d="M2.3 0 V-37.2" fill="none" stroke="#000" stroke-width="4.6" stroke-linejoin="round"/><path d="M2.3 -22.5 A12.4 12.4 0 0 1 27.1 -22.5 V0" fill="none" stroke="#000" stroke-width="4.6" stroke-linejoin="round"/><path d="M27.1 -22.5 A12.45 12.45 0 0 1 52 -22.5 V0" fill="none" stroke="#000" stroke-width="4.6" stroke-linejoin="round"/></g></g></g>
<g transform="translate(2225 753.7) rotate(0)"><g transform="scale(0.9812 1.0000)"><g transform="translate(0 0)"><path d="M5.5 -33.8 A11.6 11.6 0 1 1 28 -29.83 L4.0 -3.8" fill="none" stroke="#000" stroke-width="9" stroke-linejoin="round"/><path d="M0 -7.6 H33.3 V0 H0 Z" fill="#000" fill-rule="evenodd"/></g><g transform="translate(39.1 0)"><path d="M4.55 -14.6 A10.55 10.55 0 1 0 25.65 -14.6 A10.55 10.55 0 1 0 4.55 -14.6 Z" fill="none" stroke="#000" stroke-width="9.1" stroke-linejoin="round"/><path d="M20.5 -47.8 L5.74 -19.47" fill="none" stroke="#000" stroke-width="9.1" stroke-linejoin="round"/></g></g><g transform="translate(74 0) scale(1.0415 1.0000)"><g transform="translate(0 0)"><path d="M32.86 -10.6 A16 16 0 1 1 32.86 -26.6" fill="none" stroke="#000" stroke-width="6" stroke-linejoin="round"/></g><g transform="translate(44.6 0)"><path d="M2.3 0 V-37.2" fill="none" stroke="#000" stroke-width="4.6" stroke-linejoin="round"/><path d="M2.3 -22.5 A12.4 12.4 0 0 1 27.1 -22.5 V0" fill="none" stroke="#000" stroke-width="4.6" stroke-linejoin="round"/><path d="M27.1 -22.5 A12.45 12.45 0 0 1 52 -22.5 V0" fill="none" stroke="#000" stroke-width="4.6" stroke-linejoin="round"/></g></g></g>
<g transform="translate(2269 885) rotate(0)"><g transform="scale(0.9876 1.0000)"><g transform="translate(0 0)"><path d="M5.5 -33.8 A11.6 11.6 0 1 1 28 -29.83 L4.0 -3.8" fill="none" stroke="#000" stroke-width="9" stroke-linejoin="round"/><path d="M0 -7.6 H33.3 V0 H0 Z" fill="#000" fill-rule="evenodd"/></g><g transform="translate(39.1 0)"><path d="M5.5 -33.8 A11.6 11.6 0 1 1 28 -29.83 L4.0 -3.8" fill="none" stroke="#000" stroke-width="9" stroke-linejoin="round"/><path d="M0 -7.6 H33.3 V0 H0 Z" fill="#000" fill-rule="evenodd"/></g></g><g transform="translate(78 0) scale(1.0061 1.0000)"><g transform="translate(0 0)"><path d="M32.86 -10.6 A16 16 0 1 1 32.86 -26.6" fill="none" stroke="#000" stroke-width="6" stroke-linejoin="round"/></g><g transform="translate(44.6 0)"><path d="M2.3 0 V-37.2" fill="none" stroke="#000" stroke-width="4.6" stroke-linejoin="round"/><path d="M2.3 -22.5 A12.4 12.4 0 0 1 27.1 -22.5 V0" fill="none" stroke="#000" stroke-width="4.6" stroke-linejoin="round"/><path d="M27.1 -22.5 A12.45 12.45 0 0 1 52 -22.5 V0" fill="none" stroke="#000" stroke-width="4.6" stroke-linejoin="round"/></g></g></g>
<g transform="translate(325 369) rotate(-15.4)"><g transform="scale(0.9663 1.0000)"><g transform="translate(0 0)"><path d="M5.5 -33.8 A11.6 11.6 0 1 1 28 -29.83 L4.0 -3.8" fill="none" stroke="#000" stroke-width="9" stroke-linejoin="round"/><path d="M0 -7.6 H33.3 V0 H0 Z" fill="#000" fill-rule="evenodd"/></g><g transform="translate(39.1 0)"><path d="M16.75 -46.3 A12.35 21.1 0 1 1 16.75 -4.1 A12.35 21.1 0 1 1 16.75 -46.3 Z" fill="none" stroke="#000" stroke-width="8.8" stroke-linejoin="round"/></g><g transform="translate(78.4 0)"><path d="M6.89 -36.26 A9.6 9.6 0 1 1 14.73 -28.15" fill="none" stroke="#000" stroke-width="8.6" stroke-linejoin="round"/><path d="M15.85 -27.08 A12.6 12.6 0 1 1 5.09 -13.06" fill="none" stroke="#000" stroke-width="8.8" stroke-linejoin="round"/><path d="M12 -31.8 H18.6 V-23.4 H12 Z" fill="#000" fill-rule="evenodd"/></g></g><g transform="translate(117 0) scale(1.0010 1.0000)"><g transform="translate(0 0)"><path d="M32.86 -10.6 A16 16 0 1 1 32.86 -26.6" fill="none" stroke="#000" stroke-width="6" stroke-linejoin="round"/></g><g transform="translate(44.6 0)"><path d="M2.3 0 V-37.2" fill="none" stroke="#000" stroke-width="4.6" stroke-linejoin="round"/><path d="M2.3 -22.5 A12.4 12.4 0 0 1 27.1 -22.5 V0" fill="none" stroke="#000" stroke-width="4.6" stroke-linejoin="round"/><path d="M27.1 -22.5 A12.45 12.45 0 0 1 52 -22.5 V0" fill="none" stroke="#000" stroke-width="4.6" stroke-linejoin="round"/></g></g></g>
<g transform="translate(377 474) rotate(-15.5)"><g transform="scale(0.9957 1.0000)"><g transform="translate(0 0)"><path d="M0 -41.2 L9.2 -49 L18.8 -49 L18.8 0 L9.2 0 L9.2 -40.2 L0.5 -40.2 Z" fill="#000" fill-rule="evenodd"/></g><g transform="translate(35.3 0)"><path d="M0 -48.4 H31.8 V-40.4 H0 Z" fill="#000" fill-rule="evenodd"/><path d="M23.6 -40.6 L31.8 -44.8 L31.8 -40.4 L10.4 0.8 L2.2 -3.4 Z" fill="#000" fill-rule="evenodd"/></g><g transform="translate(74.6 0)"><path d="M0 -41.2 L9.2 -49 L18.8 -49 L18.8 0 L9.2 0 L9.2 -40.2 L0.5 -40.2 Z" fill="#000" fill-rule="evenodd"/></g></g><g transform="translate(109 0) scale(1.0111 1.0000)"><g transform="translate(0 0)"><path d="M32.86 -10.6 A16 16 0 1 1 32.86 -26.6" fill="none" stroke="#000" stroke-width="6" stroke-linejoin="round"/></g><g transform="translate(44.6 0)"><path d="M2.3 0 V-37.2" fill="none" stroke="#000" stroke-width="4.6" stroke-linejoin="round"/><path d="M2.3 -22.5 A12.4 12.4 0 0 1 27.1 -22.5 V0" fill="none" stroke="#000" stroke-width="4.6" stroke-linejoin="round"/><path d="M27.1 -22.5 A12.45 12.45 0 0 1 52 -22.5 V0" fill="none" stroke="#000" stroke-width="4.6" stroke-linejoin="round"/></g></g></g>
<g transform="translate(466.3 1000.4) rotate(-46.7)"><g transform="scale(1.0390 1.0000)"><g transform="translate(0 0)"><path d="M5.5 -33.8 A11.6 11.6 0 1 1 28 -29.83 L4.0 -3.8" fill="none" stroke="#000" stroke-width="9" stroke-linejoin="round"/><path d="M0 -7.6 H33.3 V0 H0 Z" fill="#000" fill-rule="evenodd"/></g><g transform="translate(39.1 0)"><g transform="rotate(180 15.1 -24.6)"><path d="M4.55 -14.6 A10.55 10.55 0 1 0 25.65 -14.6 A10.55 10.55 0 1 0 4.55 -14.6 Z" fill="none" stroke="#000" stroke-width="9.1" stroke-linejoin="round"/><path d="M20.5 -47.8 L5.74 -19.47" fill="none" stroke="#000" stroke-width="9.1" stroke-linejoin="round"/></g></g></g><g transform="translate(78 0) scale(0.9909 1.0000)"><g transform="translate(0 0)"><path d="M32.86 -10.6 A16 16 0 1 1 32.86 -26.6" fill="none" stroke="#000" stroke-width="6" stroke-linejoin="round"/></g><g transform="translate(44.6 0)"><path d="M2.3 0 V-37.2" fill="none" stroke="#000" stroke-width="4.6" stroke-linejoin="round"/><path d="M2.3 -22.5 A12.4 12.4 0 0 1 27.1 -22.5 V0" fill="none" stroke="#000" stroke-width="4.6" stroke-linejoin="round"/><path d="M27.1 -22.5 A12.45 12.45 0 0 1 52 -22.5 V0" fill="none" stroke="#000" stroke-width="4.6" stroke-linejoin="round"/></g></g></g>
<g transform="translate(1975 488) rotate(85.4)"><g transform="scale(1.0131 1.0000)"><g transform="translate(0 0)"><path d="M10.4 -48.8 H32 V-40.7 H10.4 Z" fill="#000" fill-rule="evenodd"/><path d="M14.0 -45.8 L10.05 -26.47  A12.2 12.2 0 1 1 4.84 -11.33" fill="none" stroke="#000" stroke-width="8.6" stroke-linejoin="round"/></g><g transform="translate(38.4 0)"><path d="M4.55 -14.6 A10.55 10.55 0 1 0 25.65 -14.6 A10.55 10.55 0 1 0 4.55 -14.6 Z" fill="none" stroke="#000" stroke-width="9.1" stroke-linejoin="round"/><path d="M20.5 -47.8 L5.74 -19.47" fill="none" stroke="#000" stroke-width="9.1" stroke-linejoin="round"/></g></g><g transform="translate(80.5 0) scale(0.9808 1.0000)"><g transform="translate(0 0)"><path d="M32.86 -10.6 A16 16 0 1 1 32.86 -26.6" fill="none" stroke="#000" stroke-width="6" stroke-linejoin="round"/></g><g transform="translate(44.6 0)"><path d="M2.3 0 V-37.2" fill="none" stroke="#000" stroke-width="4.6" stroke-linejoin="round"/><path d="M2.3 -22.5 A12.4 12.4 0 0 1 27.1 -22.5 V0" fill="none" stroke="#000" stroke-width="4.6" stroke-linejoin="round"/><path d="M27.1 -22.5 A12.45 12.45 0 0 1 52 -22.5 V0" fill="none" stroke="#000" stroke-width="4.6" stroke-linejoin="round"/></g></g></g>
<g transform="translate(1765 670.5) rotate(64.3)"><g transform="scale(0.9972 1.0000)"><g transform="translate(0 0)"><path d="M10.4 -48.8 H32 V-40.7 H10.4 Z" fill="#000" fill-rule="evenodd"/><path d="M14.0 -45.8 L10.05 -26.47  A12.2 12.2 0 1 1 4.84 -11.33" fill="none" stroke="#000" stroke-width="8.6" stroke-linejoin="round"/></g><g transform="translate(38.4 0)"><path d="M6.8 -37.6 A10.1 9.6 0 1 1 27 -37.6 A10.1 9.6 0 1 1 6.8 -37.6 Z" fill="none" stroke="#000" stroke-width="7.4" stroke-linejoin="round"/><path d="M4.4 -14.8 A12.5 11.5 0 1 1 29.4 -14.8 A12.5 11.5 0 1 1 4.4 -14.8 Z" fill="none" stroke="#000" stroke-width="8.6" stroke-linejoin="round"/></g></g><g transform="translate(78 0) scale(0.9707 1.0000)"><g transform="translate(0 0)"><path d="M32.86 -10.6 A16 16 0 1 1 32.86 -26.6" fill="none" stroke="#000" stroke-width="6" stroke-linejoin="round"/></g><g transform="translate(44.6 0)"><path d="M2.3 0 V-37.2" fill="none" stroke="#000" stroke-width="4.6" stroke-linejoin="round"/><path d="M2.3 -22.5 A12.4 12.4 0 0 1 27.1 -22.5 V0" fill="none" stroke="#000" stroke-width="4.6" stroke-linejoin="round"/><path d="M27.1 -22.5 A12.45 12.45 0 0 1 52 -22.5 V0" fill="none" stroke="#000" stroke-width="4.6" stroke-linejoin="round"/></g></g></g>
<g transform="translate(2275 638.5) rotate(26.3)"><g transform="scale(1.0200 1.0000)"><g transform="translate(0 0)"><path d="M0 -41.2 L9.2 -49 L18.8 -49 L18.8 0 L9.2 0 L9.2 -40.2 L0.5 -40.2 Z" fill="#000" fill-rule="evenodd"/></g><g transform="translate(35.3 0)"><path d="M16.75 -46.3 A12.35 21.1 0 1 1 16.75 -4.1 A12.35 21.1 0 1 1 16.75 -46.3 Z" fill="none" stroke="#000" stroke-width="8.8" stroke-linejoin="round"/></g><g transform="translate(76.3 0)"><path d="M0 -41.2 L9.2 -49 L18.8 -49 L18.8 0 L9.2 0 L9.2 -40.2 L0.5 -40.2 Z" fill="#000" fill-rule="evenodd"/></g></g><g transform="translate(107 0) scale(0.9707 1.0000)"><g transform="translate(0 0)"><path d="M32.86 -10.6 A16 16 0 1 1 32.86 -26.6" fill="none" stroke="#000" stroke-width="6" stroke-linejoin="round"/></g><g transform="translate(44.6 0)"><path d="M2.3 0 V-37.2" fill="none" stroke="#000" stroke-width="4.6" stroke-linejoin="round"/><path d="M2.3 -22.5 A12.4 12.4 0 0 1 27.1 -22.5 V0" fill="none" stroke="#000" stroke-width="4.6" stroke-linejoin="round"/><path d="M27.1 -22.5 A12.45 12.45 0 0 1 52 -22.5 V0" fill="none" stroke="#000" stroke-width="4.6" stroke-linejoin="round"/></g></g></g>
<g transform="translate(2521.2 697.4) rotate(90)"><g transform="scale(1.0649 1.0000)"><g transform="translate(0 0)"><path d="M0 -48.4 H31.8 V-40.4 H0 Z" fill="#000" fill-rule="evenodd"/><path d="M23.6 -40.6 L31.8 -44.8 L31.8 -40.4 L10.4 0.8 L2.2 -3.4 Z" fill="#000" fill-rule="evenodd"/></g><g transform="translate(35.8 0)"><path d="M6.89 -36.26 A9.6 9.6 0 1 1 14.73 -28.15" fill="none" stroke="#000" stroke-width="8.6" stroke-linejoin="round"/><path d="M15.85 -27.08 A12.6 12.6 0 1 1 5.09 -13.06" fill="none" stroke="#000" stroke-width="8.8" stroke-linejoin="round"/><path d="M12 -31.8 H18.6 V-23.4 H12 Z" fill="#000" fill-rule="evenodd"/></g><g transform="translate(76.2 0)"><path d="M0 -22.2 H15.4 V-14.5 H0 Z" fill="#000" fill-rule="evenodd"/></g><g transform="translate(97.6 0)"><g transform="rotate(180 15.1 -24.6)"><path d="M4.55 -14.6 A10.55 10.55 0 1 0 25.65 -14.6 A10.55 10.55 0 1 0 4.55 -14.6 Z" fill="none" stroke="#000" stroke-width="9.1" stroke-linejoin="round"/><path d="M20.5 -47.8 L5.74 -19.47" fill="none" stroke="#000" stroke-width="9.1" stroke-linejoin="round"/></g></g><g transform="translate(135.3 0)"><path d="M0 -41.2 L9.2 -49 L18.8 -49 L18.8 0 L9.2 0 L9.2 -40.2 L0.5 -40.2 Z" fill="#000" fill-rule="evenodd"/></g></g><g transform="translate(180.5 0) scale(1.0051 1.0000)"><g transform="translate(0 0)"><path d="M32.86 -10.6 A16 16 0 1 1 32.86 -26.6" fill="none" stroke="#000" stroke-width="6" stroke-linejoin="round"/></g><g transform="translate(44.6 0)"><path d="M2.3 0 V-37.2" fill="none" stroke="#000" stroke-width="4.6" stroke-linejoin="round"/><path d="M2.3 -22.5 A12.4 12.4 0 0 1 27.1 -22.5 V0" fill="none" stroke="#000" stroke-width="4.6" stroke-linejoin="round"/><path d="M27.1 -22.5 A12.45 12.45 0 0 1 52 -22.5 V0" fill="none" stroke="#000" stroke-width="4.6" stroke-linejoin="round"/></g></g></g>
<g transform="translate(1851.2 881.9) rotate(90)"><g transform="scale(0.9812 1.0000)"><g transform="translate(0 0)"><path d="M21.3 -50.5 L30.2 -50.5 L30.2 -18.7 L34.3 -18.7 L34.3 -10.4 L30.2 -10.4 L30.2 0 L21.3 0 L21.3 -10.4 L0 -10.4 L0 -17.8 Z M10.6 -18.7 L21.3 -18.7 L21.3 -35.8 Z" fill="#000" fill-rule="evenodd"/></g><g transform="translate(40.1 0)"><path d="M21.3 -50.5 L30.2 -50.5 L30.2 -18.7 L34.3 -18.7 L34.3 -10.4 L30.2 -10.4 L30.2 0 L21.3 0 L21.3 -10.4 L0 -10.4 L0 -17.8 Z M10.6 -18.7 L21.3 -18.7 L21.3 -35.8 Z" fill="#000" fill-rule="evenodd"/></g></g><g transform="translate(79 0) scale(0.9970 1.0000)"><g transform="translate(0 0)"><path d="M32.86 -10.6 A16 16 0 1 1 32.86 -26.6" fill="none" stroke="#000" stroke-width="6" stroke-linejoin="round"/></g><g transform="translate(44.6 0)"><path d="M2.3 0 V-37.2" fill="none" stroke="#000" stroke-width="4.6" stroke-linejoin="round"/><path d="M2.3 -22.5 A12.4 12.4 0 0 1 27.1 -22.5 V0" fill="none" stroke="#000" stroke-width="4.6" stroke-linejoin="round"/><path d="M27.1 -22.5 A12.45 12.45 0 0 1 52 -22.5 V0" fill="none" stroke="#000" stroke-width="4.6" stroke-linejoin="round"/></g></g></g>
<g transform="translate(193 1150) rotate(-90)"><g transform="scale(1.0305 1.0000)"><g transform="translate(0 0)"><path d="M10.4 -48.8 H32 V-40.7 H10.4 Z" fill="#000" fill-rule="evenodd"/><path d="M14.0 -45.8 L10.05 -26.47  A12.2 12.2 0 1 1 4.84 -11.33" fill="none" stroke="#000" stroke-width="8.6" stroke-linejoin="round"/></g><g transform="translate(38.4 0)"><path d="M6.8 -37.6 A10.1 9.6 0 1 1 27 -37.6 A10.1 9.6 0 1 1 6.8 -37.6 Z" fill="none" stroke="#000" stroke-width="7.4" stroke-linejoin="round"/><path d="M4.4 -14.8 A12.5 11.5 0 1 1 29.4 -14.8 A12.5 11.5 0 1 1 4.4 -14.8 Z" fill="none" stroke="#000" stroke-width="8.6" stroke-linejoin="round"/></g></g><g transform="translate(77.4 0) scale(1.0243 1.0000)"><g transform="translate(0 0)"><path d="M32.86 -10.6 A16 16 0 1 1 32.86 -26.6" fill="none" stroke="#000" stroke-width="6" stroke-linejoin="round"/></g><g transform="translate(44.6 0)"><path d="M2.3 0 V-37.2" fill="none" stroke="#000" stroke-width="4.6" stroke-linejoin="round"/><path d="M2.3 -22.5 A12.4 12.4 0 0 1 27.1 -22.5 V0" fill="none" stroke="#000" stroke-width="4.6" stroke-linejoin="round"/><path d="M27.1 -22.5 A12.45 12.45 0 0 1 52 -22.5 V0" fill="none" stroke="#000" stroke-width="4.6" stroke-linejoin="round"/></g></g></g>
<g transform="translate(381.7 1270.5) rotate(90)"><g transform="scale(0.9738 1.0000)"><g transform="translate(0 0)"><path d="M0 -41.2 L9.2 -49 L18.8 -49 L18.8 0 L9.2 0 L9.2 -40.2 L0.5 -40.2 Z" fill="#000" fill-rule="evenodd"/></g><g transform="translate(35.3 0)"><path d="M16.75 -46.3 A12.35 21.1 0 1 1 16.75 -4.1 A12.35 21.1 0 1 1 16.75 -46.3 Z" fill="none" stroke="#000" stroke-width="8.8" stroke-linejoin="round"/></g></g><g transform="translate(73.5 0) scale(1.0010 1.0000)"><g transform="translate(0 0)"><path d="M32.86 -10.6 A16 16 0 1 1 32.86 -26.6" fill="none" stroke="#000" stroke-width="6" stroke-linejoin="round"/></g><g transform="translate(44.6 0)"><path d="M2.3 0 V-37.2" fill="none" stroke="#000" stroke-width="4.6" stroke-linejoin="round"/><path d="M2.3 -22.5 A12.4 12.4 0 0 1 27.1 -22.5 V0" fill="none" stroke="#000" stroke-width="4.6" stroke-linejoin="round"/><path d="M27.1 -22.5 A12.45 12.45 0 0 1 52 -22.5 V0" fill="none" stroke="#000" stroke-width="4.6" stroke-linejoin="round"/></g></g></g>
<g transform="translate(1355 1307.5) rotate(-85.2)"><g transform="scale(0.9685 1.0000)"><g transform="translate(0 0)"><path d="M0 -41.2 L9.2 -49 L18.8 -49 L18.8 0 L9.2 0 L9.2 -40.2 L0.5 -40.2 Z" fill="#000" fill-rule="evenodd"/></g><g transform="translate(35.3 0)"><path d="M16.75 -46.3 A12.35 21.1 0 1 1 16.75 -4.1 A12.35 21.1 0 1 1 16.75 -46.3 Z" fill="none" stroke="#000" stroke-width="8.8" stroke-linejoin="round"/></g><g transform="translate(74.6 0)"><path d="M5.5 -33.8 A11.6 11.6 0 1 1 28 -29.83 L4.0 -3.8" fill="none" stroke="#000" stroke-width="9" stroke-linejoin="round"/><path d="M0 -7.6 H33.3 V0 H0 Z" fill="#000" fill-rule="evenodd"/></g></g><g transform="translate(109.5 0) scale(0.9869 1.0000)"><g transform="translate(0 0)"><path d="M32.86 -10.6 A16 16 0 1 1 32.86 -26.6" fill="none" stroke="#000" stroke-width="6" stroke-linejoin="round"/></g><g transform="translate(44.6 0)"><path d="M2.3 0 V-37.2" fill="none" stroke="#000" stroke-width="4.6" stroke-linejoin="round"/><path d="M2.3 -22.5 A12.4 12.4 0 0 1 27.1 -22.5 V0" fill="none" stroke="#000" stroke-width="4.6" stroke-linejoin="round"/><path d="M27.1 -22.5 A12.45 12.45 0 0 1 52 -22.5 V0" fill="none" stroke="#000" stroke-width="4.6" stroke-linejoin="round"/></g></g></g>
<path d="M323.8 1518 L622 1518 Q669.4 1518 669.4 1560 L669.4 1760 L436.8 1760 L436.8 1683 C403.5 1666.3 373.8 1634.7 347.8 1594 C335 1570 328 1545 323.8 1518Z" fill="#676767"/>
<path d="M273.7 1592 C288.5 1620 316.3 1649.6 353.4 1668 C380 1678 410 1683 436.8 1684 L436.8 1760 L273.7 1760Z" fill="#676767"/>
<path d="M417.4 1526.1 L418.8 1529.9 L422.9 1530.1 L419.7 1532.6 L420.8 1536.6 L417.4 1534.3 L414 1536.6 L415.1 1532.6 L411.9 1530.1 L416 1529.9Z M367.3 1538.7 L368.6 1542.1 L372.3 1542.3 L369.4 1544.6 L370.4 1548.1 L367.3 1546.1 L364.2 1548.1 L365.2 1544.6 L362.3 1542.3 L366 1542.1Z M489.6 1523.7 L490.2 1525.4 L492.1 1525.5 L490.6 1526.6 L491.1 1528.4 L489.6 1527.4 L488.1 1528.4 L488.6 1526.6 L487.1 1525.5 L489 1525.4Z M460 1540.4 L460.6 1542.1 L462.5 1542.2 L461 1543.3 L461.5 1545.1 L460 1544.1 L458.5 1545.1 L459 1543.3 L457.5 1542.2 L459.4 1542.1Z M511 1535.5 L513.3 1541.7 L520 1542 L514.8 1546.1 L516.6 1552.5 L511 1548.9 L505.4 1552.5 L507.2 1546.1 L502 1542 L508.7 1541.7Z M432.2 1550.2 L433.6 1554 L437.7 1554.2 L434.5 1556.7 L435.6 1560.7 L432.2 1558.4 L428.8 1560.7 L429.9 1556.7 L426.7 1554.2 L430.8 1554Z M397.9 1557.6 L400.2 1563.9 L406.9 1564.2 L401.7 1568.3 L403.5 1574.7 L397.9 1571.1 L392.3 1574.7 L394.1 1568.3 L388.9 1564.2 L395.6 1563.9Z M437.7 1568.7 L439.1 1572.5 L443.2 1572.7 L440 1575.2 L441.1 1579.2 L437.7 1576.9 L434.3 1579.2 L435.4 1575.2 L432.2 1572.7 L436.3 1572.5Z M480.4 1559.4 L481.8 1563.2 L485.9 1563.4 L482.7 1565.9 L483.8 1569.9 L480.4 1567.6 L477 1569.9 L478.1 1565.9 L474.9 1563.4 L479 1563.2Z M468.3 1565.4 L468.9 1567.1 L470.8 1567.2 L469.3 1568.3 L469.8 1570.1 L468.3 1569.1 L466.8 1570.1 L467.3 1568.3 L465.8 1567.2 L467.7 1567.1Z M530.4 1557.1 L531 1558.8 L532.9 1558.9 L531.4 1560 L531.9 1561.8 L530.4 1560.8 L528.9 1561.8 L529.4 1560 L527.9 1558.9 L529.8 1558.8Z M551.7 1547.4 L553.1 1551.2 L557.2 1551.4 L554 1553.9 L555.1 1557.9 L551.7 1555.6 L548.3 1557.9 L549.4 1553.9 L546.2 1551.4 L550.3 1551.2Z M544.3 1557.1 L544.9 1558.8 L546.8 1558.9 L545.3 1560 L545.8 1561.8 L544.3 1560.8 L542.8 1561.8 L543.3 1560 L541.8 1558.9 L543.7 1558.8Z M561.9 1532.1 L562.5 1533.8 L564.4 1533.9 L562.9 1535 L563.4 1536.8 L561.9 1535.8 L560.4 1536.8 L560.9 1535 L559.4 1533.9 L561.3 1533.8Z M600 1529.8 L601.4 1533.6 L605.5 1533.8 L602.3 1536.3 L603.4 1540.3 L600 1538 L596.6 1540.3 L597.7 1536.3 L594.5 1533.8 L598.6 1533.6Z M613.8 1544.1 L614.4 1545.8 L616.3 1545.9 L614.8 1547 L615.3 1548.8 L613.8 1547.8 L612.3 1548.8 L612.8 1547 L611.3 1545.9 L613.2 1545.8Z M639.8 1541 L642.1 1547.2 L648.8 1547.5 L643.6 1551.6 L645.4 1558 L639.8 1554.4 L634.2 1558 L636 1551.6 L630.8 1547.5 L637.5 1547.2Z M589.7 1550.2 L591.1 1554 L595.2 1554.2 L592 1556.7 L593.1 1560.7 L589.7 1558.4 L586.3 1560.7 L587.4 1556.7 L584.2 1554.2 L588.3 1554Z M565.6 1568.2 L566.2 1569.9 L568.1 1570 L566.6 1571.1 L567.1 1572.9 L565.6 1571.9 L564.1 1572.9 L564.6 1571.1 L563.1 1570 L565 1569.9Z M361.8 1576.5 L362.4 1578.2 L364.3 1578.3 L362.8 1579.4 L363.3 1581.2 L361.8 1580.2 L360.3 1581.2 L360.8 1579.4 L359.3 1578.3 L361.2 1578.2Z M508.2 1574.3 L509.6 1578.1 L513.7 1578.3 L510.5 1580.8 L511.6 1584.8 L508.2 1582.5 L504.8 1584.8 L505.9 1580.8 L502.7 1578.3 L506.8 1578.1Z M543.4 1579 L545.7 1585.2 L552.4 1585.5 L547.2 1589.6 L549 1596 L543.4 1592.4 L537.8 1596 L539.6 1589.6 L534.4 1585.5 L541.1 1585.2Z M619.4 1579.8 L620.8 1583.6 L624.9 1583.8 L621.7 1586.3 L622.8 1590.3 L619.4 1588 L616 1590.3 L617.1 1586.3 L613.9 1583.8 L618 1583.6Z M647.2 1578.4 L647.8 1580.1 L649.7 1580.2 L648.2 1581.3 L648.7 1583.1 L647.2 1582.1 L645.7 1583.1 L646.2 1581.3 L644.7 1580.2 L646.6 1580.1Z M396 1593.7 L397.4 1597.5 L401.5 1597.7 L398.3 1600.2 L399.4 1604.2 L396 1601.9 L392.6 1604.2 L393.7 1600.2 L390.5 1597.7 L394.6 1597.5Z M446.1 1593.7 L447.5 1597.5 L451.6 1597.7 L448.4 1600.2 L449.5 1604.2 L446.1 1601.9 L442.7 1604.2 L443.8 1600.2 L440.6 1597.7 L444.7 1597.5Z M459 1593.7 L460.4 1597.5 L464.5 1597.7 L461.3 1600.2 L462.4 1604.2 L459 1601.9 L455.6 1604.2 L456.7 1600.2 L453.5 1597.7 L457.6 1597.5Z M477.6 1586.7 L478.2 1588.4 L480.1 1588.5 L478.6 1589.6 L479.1 1591.4 L477.6 1590.4 L476.1 1591.4 L476.6 1589.6 L475.1 1588.5 L477 1588.4Z M578.6 1592.8 L580 1596.6 L584.1 1596.8 L580.9 1599.3 L582 1603.3 L578.6 1601 L575.2 1603.3 L576.3 1599.3 L573.1 1596.8 L577.2 1596.6Z M375.7 1609.5 L377.1 1613.3 L381.2 1613.5 L378 1616 L379.1 1620 L375.7 1617.7 L372.3 1620 L373.4 1616 L370.2 1613.5 L374.3 1613.3Z M419.2 1616 L420.6 1619.8 L424.7 1620 L421.5 1622.5 L422.6 1626.5 L419.2 1624.2 L415.8 1626.5 L416.9 1622.5 L413.7 1620 L417.8 1619.8Z M490.6 1608.6 L492 1612.4 L496.1 1612.6 L492.9 1615.1 L494 1619.1 L490.6 1616.8 L487.2 1619.1 L488.3 1615.1 L485.1 1612.6 L489.2 1612.4Z M516.5 1612.7 L517.1 1614.4 L519 1614.5 L517.5 1615.6 L518 1617.4 L516.5 1616.4 L515 1617.4 L515.5 1615.6 L514 1614.5 L515.9 1614.4Z M524.9 1606.7 L526.3 1610.5 L530.4 1610.7 L527.2 1613.2 L528.3 1617.2 L524.9 1614.9 L521.5 1617.2 L522.6 1613.2 L519.4 1610.7 L523.5 1610.5Z M588.8 1610.8 L589.4 1612.5 L591.3 1612.6 L589.8 1613.7 L590.3 1615.5 L588.8 1614.5 L587.3 1615.5 L587.8 1613.7 L586.3 1612.6 L588.2 1612.5Z M631.4 1611.3 L632.8 1615.1 L636.9 1615.3 L633.7 1617.8 L634.8 1621.8 L631.4 1619.5 L628 1621.8 L629.1 1617.8 L625.9 1615.3 L630 1615.1Z M385.8 1626.2 L387.2 1630 L391.3 1630.2 L388.1 1632.7 L389.2 1636.7 L385.8 1634.4 L382.4 1636.7 L383.5 1632.7 L380.3 1630.2 L384.4 1630Z M459 1628 L461.3 1634.3 L468 1634.6 L462.8 1638.7 L464.6 1645.1 L459 1641.5 L453.4 1645.1 L455.2 1638.7 L450 1634.6 L456.7 1634.3Z M544.3 1627.1 L546.6 1633.4 L553.3 1633.7 L548.1 1637.8 L549.9 1644.2 L544.3 1640.6 L538.7 1644.2 L540.5 1637.8 L535.3 1633.7 L542 1633.4Z M557.3 1625.7 L557.9 1627.4 L559.8 1627.5 L558.3 1628.6 L558.8 1630.4 L557.3 1629.4 L555.8 1630.4 L556.3 1628.6 L554.8 1627.5 L556.7 1627.4Z M498.9 1639.2 L500.3 1643 L504.4 1643.2 L501.2 1645.7 L502.3 1649.7 L498.9 1647.4 L495.5 1649.7 L496.6 1645.7 L493.4 1643.2 L497.5 1643Z M518.4 1638.6 L519 1640.3 L520.9 1640.4 L519.4 1641.5 L519.9 1643.3 L518.4 1642.3 L516.9 1643.3 L517.4 1641.5 L515.9 1640.4 L517.8 1640.3Z M420.1 1643.3 L420.7 1645 L422.6 1645.1 L421.1 1646.2 L421.6 1648 L420.1 1647 L418.6 1648 L419.1 1646.2 L417.6 1645.1 L419.5 1645Z M589.7 1638.2 L591.1 1642 L595.2 1642.2 L592 1644.7 L593.1 1648.7 L589.7 1646.4 L586.3 1648.7 L587.4 1644.7 L584.2 1642.2 L588.3 1642Z M615.7 1643 L618 1649.2 L624.7 1649.5 L619.5 1653.6 L621.3 1660 L615.7 1656.4 L610.1 1660 L611.9 1653.6 L606.7 1649.5 L613.4 1649.2Z M646.3 1646.1 L646.9 1647.8 L648.8 1647.9 L647.3 1649 L647.8 1650.8 L646.3 1649.8 L644.8 1650.8 L645.3 1649 L643.8 1647.9 L645.7 1647.8Z M430.3 1656.2 L430.9 1657.9 L432.8 1658 L431.3 1659.1 L431.8 1660.9 L430.3 1659.9 L428.8 1660.9 L429.3 1659.1 L427.8 1658 L429.7 1657.9Z M466.5 1654.4 L467.1 1656.1 L469 1656.2 L467.5 1657.3 L468 1659.1 L466.5 1658.1 L465 1659.1 L465.5 1657.3 L464 1656.2 L465.9 1656.1Z M292.2 1634 L292.8 1635.7 L294.7 1635.8 L293.2 1636.9 L293.7 1638.7 L292.2 1637.7 L290.7 1638.7 L291.2 1636.9 L289.7 1635.8 L291.6 1635.7Z M308.9 1647.5 L310.3 1651.3 L314.4 1651.5 L311.2 1654 L312.3 1658 L308.9 1655.7 L305.5 1658 L306.6 1654 L303.4 1651.5 L307.5 1651.3Z M292.2 1660.5 L293.6 1664.3 L297.7 1664.5 L294.5 1667 L295.6 1671 L292.2 1668.7 L288.8 1671 L289.9 1667 L286.7 1664.5 L290.8 1664.3Z M335.8 1675.7 L336.4 1677.4 L338.3 1677.5 L336.8 1678.6 L337.3 1680.4 L335.8 1679.4 L334.3 1680.4 L334.8 1678.6 L333.3 1677.5 L335.2 1677.4Z M340.4 1678.5 L341 1680.2 L342.9 1680.3 L341.4 1681.4 L341.9 1683.2 L340.4 1682.2 L338.9 1683.2 L339.4 1681.4 L337.9 1680.3 L339.8 1680.2Z M366.4 1675.3 L367.8 1679.1 L371.9 1679.3 L368.7 1681.8 L369.8 1685.8 L366.4 1683.5 L363 1685.8 L364.1 1681.8 L360.9 1679.3 L365 1679.1Z M308.9 1678.1 L311.2 1684.4 L317.9 1684.7 L312.7 1688.8 L314.5 1695.2 L308.9 1691.6 L303.3 1695.2 L305.1 1688.8 L299.9 1684.7 L306.6 1684.4Z M394.2 1697.9 L394.8 1699.6 L396.7 1699.7 L395.2 1700.8 L395.7 1702.6 L394.2 1701.6 L392.7 1702.6 L393.2 1700.8 L391.7 1699.7 L393.6 1699.6Z M349.7 1700.3 L351.1 1704.1 L355.2 1704.3 L352 1706.8 L353.1 1710.8 L349.7 1708.5 L346.3 1710.8 L347.4 1706.8 L344.2 1704.3 L348.3 1704.1Z M318 1717.3 L318.6 1719 L320.5 1719.1 L319 1720.2 L319.5 1722 L318 1721 L316.5 1722 L317 1720.2 L315.5 1719.1 L317.4 1719Z M385 1687.4 L385.6 1689.1 L387.5 1689.2 L386 1690.3 L386.5 1692.1 L385 1691.1 L383.5 1692.1 L384 1690.3 L382.5 1689.2 L384.4 1689.1Z" fill="#fff"/>
<path d="M232.5 1766 L417 1708 L420 1718 L232.5 1776Z" fill="#fff"/>
<path d="M232.5 1771.5 L417 1714.6 L731.6 1726.8 L639.4 1755.3 L501 1817.6 C460 1805 400 1790 340 1782 C300 1777 260 1773 232.5 1771.5Z" fill="#4b4b4b"/>
<path d="M232.5 1771.5 C260 1773 300 1777 340 1782 C400 1790 460 1805 501 1817.6 L501 1867.8 L234 1812.3Z" fill="#fcfcfc" stroke="#606060" stroke-width="2.2" stroke-linejoin="round"/>
<path d="M501 1817.6 L639.4 1755.3 L731.6 1726.8 L731.6 1764.8 L501 1867.8Z" fill="#fcfcfc" stroke="#606060" stroke-width="2.2" stroke-linejoin="round"/>
<path d="M234 1813 L501 1872 L731.6 1766" fill="none" stroke="#5e5e5e" stroke-width="5.5" stroke-linejoin="round"/>
<path d="M500.2 1818 C497 1830 497 1856 500.2 1868 C503.4 1856 503.4 1830 500.2 1818Z" fill="#5a5a5a"/>
<path d="M414.6 1708.4 C416.8 1706 423.6 1698.6 429.3 1695.3 C435 1692 442.3 1691.8 448.8 1688.8 C455.3 1685.8 461.3 1680.7 468.4 1677.4 C475.4 1674.2 486.5 1671.7 491.1 1669.3 C495.7 1666.9 493.6 1664.1 496 1662.8 C498.4 1661.5 502.8 1660.8 505.8 1661.2 C508.8 1661.6 507.1 1664.7 513.9 1665.2 C520.7 1665.7 535.6 1663.2 546.5 1664.4 C557.4 1665.6 570 1669.1 579 1672.6 C588 1676.1 595.3 1684.1 600.2 1685.6 C605.1 1687.1 602.6 1682.3 608.3 1681.5 C614 1680.7 628.4 1680.3 634.4 1680.7 C640.4 1681.1 637 1682.7 644.1 1684 C651.2 1685.3 664.5 1685.8 676.7 1688.8 C688.9 1691.8 707.9 1698.3 717.4 1701.8 C726.9 1705.3 731.3 1707.8 733.7 1710 C736.1 1712.2 734.5 1713 732 1714.9 C729.5 1716.8 725 1717.3 719 1721.4 C713 1725.5 705.4 1734.2 696.2 1739.3 C687 1744.4 671.3 1749.6 663.7 1752.3 C656.1 1755 655.2 1756.4 650.6 1755.6 C646 1754.8 645.2 1750.1 636 1747.4 C626.8 1744.7 608.9 1741.7 595.3 1739.3 C581.7 1736.9 564.1 1732.8 554.6 1732.8 C545.1 1732.8 543.4 1738.5 538.3 1739.3 C533.1 1740.1 527.8 1739.6 523.7 1737.7 C519.6 1735.8 523.7 1730.9 513.9 1727.9 C504.1 1724.9 479.2 1722.2 465.1 1719.8 C451 1717.3 437.4 1714.8 429.3 1713.2 C421.2 1711.6 418.8 1710.8 416.3 1710 C413.9 1709.2 412.4 1710.9 414.6 1708.4Z" fill="#fff" stroke="#f2f2f2" stroke-width="2"/>
<path d="M426 1711.6 C440.6 1714 497.1 1722.6 513.9 1726.3 C530.7 1730 523.2 1732.5 527 1733.6 C530.8 1734.7 532.9 1733.3 536.7 1732.8 C540.5 1732.2 533.2 1728.3 549.7 1730.3 C566.2 1732.3 619.2 1741.2 636 1745 C652.8 1748.8 646 1752.1 650.6 1753.1 C655.2 1754 653.9 1755.5 663.7 1750.7 C673.5 1746 697.8 1730.8 709.2 1724.6 C720.6 1718.3 728.2 1715.1 732 1713.2" fill="none" stroke="#5a5a5a" stroke-width="1.6"/>
<path d="M554.6 1670.1 C558.8 1671.1 571.9 1673.2 580 1676 C588.1 1678.8 599.6 1685.3 603.5 1687.2" fill="none" stroke="#666" stroke-width="1.8"/>
<path d="M680 1690.5 C684.7 1691.6 699.6 1694 708 1697 C716.4 1700 726.7 1706.5 730.4 1708.4" fill="none" stroke="#666" stroke-width="1.8"/>
<path d="M540 1712 C550 1698 566 1690 586.4 1690.5 C582 1694 562 1700 544 1713Z" fill="#5c5c5c"/>
<path d="M662 1732.8 C672 1718 690 1710 709.2 1710 C700 1714 682 1722 666 1734Z" fill="#5c5c5c"/>
<path d="M227 1832.2 L502.4 1898.7 L743.8 1780.7" fill="none" stroke="#4f4f4f" stroke-width="5" stroke-linejoin="miter"/>
<path d="M262.4 1824 C250 1826 238 1828 227 1832.2 C233 1840 238 1848 243.4 1856.6" fill="none" stroke="#4f4f4f" stroke-width="4.5" stroke-linecap="round"/>
<path d="M715.3 1780.7 C725 1780 735 1780 743.8 1780.7 C740 1790 736 1800 733 1810.5" fill="none" stroke="#4f4f4f" stroke-width="4.5" stroke-linecap="round"/>
<g transform="translate(755.3 1736.1) scale(1.1164 1.1000)"><g transform="translate(0 0)"><path d="M0 -41.2 L9.2 -49 L18.8 -49 L18.8 0 L9.2 0 L9.2 -40.2 L0.5 -40.2 Z" fill="#696969" fill-rule="evenodd"/></g><g transform="translate(35.3 0)"><g transform="rotate(180 15.1 -24.6)"><path d="M4.55 -14.6 A10.55 10.55 0 1 0 25.65 -14.6 A10.55 10.55 0 1 0 4.55 -14.6 Z" fill="none" stroke="#696969" stroke-width="9.1" stroke-linejoin="round"/><path d="M20.5 -47.8 L5.74 -19.47" fill="none" stroke="#696969" stroke-width="9.1" stroke-linejoin="round"/></g></g><g transform="translate(71.3 0)"><path d="M6.89 -36.26 A9.6 9.6 0 1 1 14.73 -28.15" fill="none" stroke="#696969" stroke-width="8.6" stroke-linejoin="round"/><path d="M15.85 -27.08 A12.6 12.6 0 1 1 5.09 -13.06" fill="none" stroke="#696969" stroke-width="8.8" stroke-linejoin="round"/><path d="M12 -31.8 H18.6 V-23.4 H12 Z" fill="#696969" fill-rule="evenodd"/></g></g>
<g transform="translate(895.7 1736.1) scale(1.0739 1.1000)"><g transform="translate(0 0)"><path d="M0 -36.4 L10.6 -36.4 L37.9 0 L27.3 0 Z" fill="#696969" fill-rule="evenodd"/><path d="M27.3 -36.4 L37.9 -36.4 L10.6 0 L0 0 Z" fill="#696969" fill-rule="evenodd"/></g></g>
<g transform="translate(964.9 1736.1) scale(1.1029 1.1000)"><g transform="translate(0 0)"><path d="M0 -41.2 L9.2 -49 L18.8 -49 L18.8 0 L9.2 0 L9.2 -40.2 L0.5 -40.2 Z" fill="#696969" fill-rule="evenodd"/></g><g transform="translate(35.3 0)"><path d="M5.5 -33.8 A11.6 11.6 0 1 1 28 -29.83 L4.0 -3.8" fill="none" stroke="#696969" stroke-width="9" stroke-linejoin="round"/><path d="M0 -7.6 H33.3 V0 H0 Z" fill="#696969" fill-rule="evenodd"/></g><g transform="translate(74.4 0)"><path d="M6.89 -36.26 A9.6 9.6 0 1 1 14.73 -28.15" fill="none" stroke="#696969" stroke-width="8.6" stroke-linejoin="round"/><path d="M15.85 -27.08 A12.6 12.6 0 1 1 5.09 -13.06" fill="none" stroke="#696969" stroke-width="8.8" stroke-linejoin="round"/><path d="M12 -31.8 H18.6 V-23.4 H12 Z" fill="#696969" fill-rule="evenodd"/></g></g></svg>
</body></html>
